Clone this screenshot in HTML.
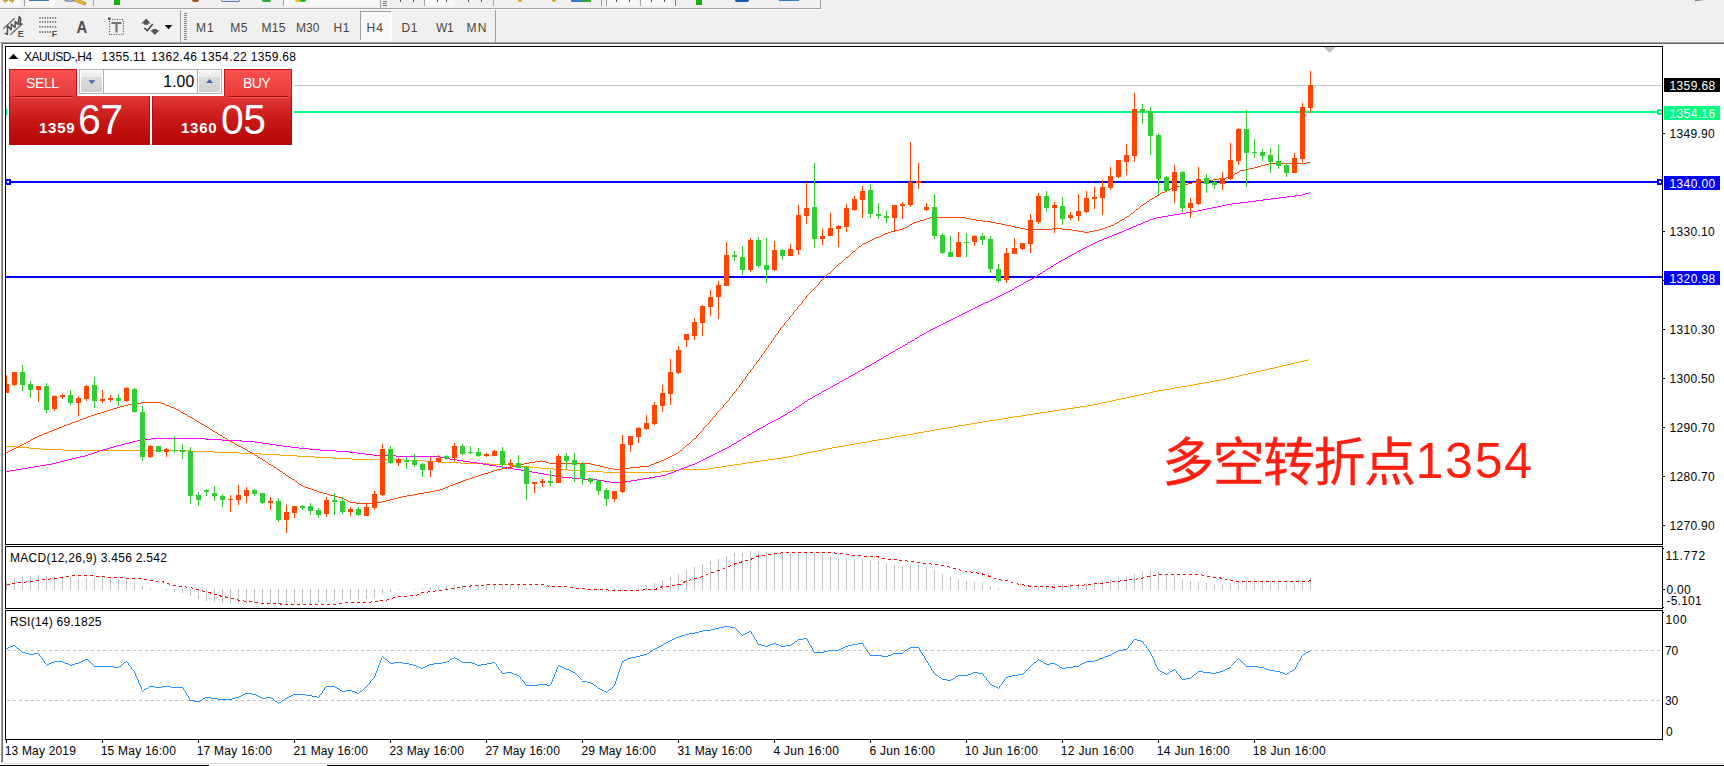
<!DOCTYPE html>
<html><head><meta charset="utf-8"><title>XAUUSD-,H4</title>
<style>
html,body{margin:0;padding:0;background:#fff;}
body{width:1724px;height:766px;position:relative;overflow:hidden;font-family:"Liberation Sans","Noto Sans CJK SC",sans-serif;font-size:12px;color:#000;}
.abs{position:absolute;white-space:nowrap;}
.t{position:absolute;white-space:nowrap;font-size:12px;line-height:14px;}
.tf{color:#505050;}
.ax{position:absolute;left:1668px;font-size:12px;line-height:14px;white-space:nowrap;}
.dt{position:absolute;top:744px;font-size:12px;line-height:14px;white-space:nowrap;}
.lab{position:absolute;left:1664px;width:56px;height:14px;overflow:hidden;font-size:12px;line-height:16px;color:#fff;text-indent:5.5px;letter-spacing:0.38px;white-space:nowrap;}
</style></head><body>
<!-- top toolbars -->
<div class="abs" style="left:0;top:0;width:1724px;height:42px;background:#f0f0f0"></div>
<div class="abs" style="left:0;top:8px;width:821px;height:1px;background:#a0a0a0"></div>
<div class="abs" style="left:0;top:9px;width:821px;height:1px;background:#fafafa"></div>
<div class="abs" style="left:820px;top:0;width:1px;height:9px;background:#a0a0a0"></div>
<div class="abs" style="left:0;top:42px;width:1724px;height:1px;background:#a0a0a0"></div>
<div class="abs" style="left:1px;top:43px;width:1723px;height:1px;background:#696969"></div>
<div class="abs" style="left:1px;top:43px;width:1px;height:720px;background:#a0a0a0"></div>
<div class="abs" style="left:2px;top:43px;width:1px;height:719px;background:#696969"></div>
<!-- cut-off upper toolbar remnants -->
<div class="abs" style="left:0;top:0;width:21px;height:6px;background:#f9f9f9"></div>
<svg class="abs" style="left:0;top:0" width="100" height="8"><path d="M3.5 0H8L4.8 2.6ZM9 0H13.6L12.6 2.6Z" fill="#e6b020" stroke="#a87810" stroke-width=".6"/><path d="M64.5 0Q69 2.4 75 .2" stroke="#7f8ea6" stroke-width="1.6" fill="none"/><path d="M75.5 0L84.5 3.6" stroke="#b88418" stroke-width="3.2" stroke-linecap="round"/><path d="M75.5 0L84.3 3.4" stroke="#f0c040" stroke-width="1.6" stroke-linecap="round"/></svg>
<div class="abs" style="left:24px;top:0;width:1px;height:6px;background:#a0a0a0"></div>
<div class="abs" style="left:26px;top:0;width:29px;height:6px;background:#f9f9f9"></div>
<div class="abs" style="left:29px;top:0;width:20px;height:1px;background:#3a78c8"></div>
<div class="abs" style="left:93px;top:0;width:1px;height:6px;background:#a0a0a0"></div>
<div class="abs" style="left:114px;top:0;width:6px;height:5px;background:#10b010"></div>
<div class="abs" style="left:192px;top:0;width:7px;height:2px;background:#9a5a10;border-radius:0 0 4px 4px"></div>
<div class="abs" style="left:221px;top:0;width:19px;height:2px;background:#dfe6f5;border:1px solid #5a78b8;border-top:0;border-radius:0 0 3px 3px;box-sizing:border-box"></div>
<div class="abs" style="left:262px;top:0;width:9px;height:2px;background:#30a830;border-radius:0 0 4px 4px"></div>
<div class="abs" style="left:283px;top:0;width:1px;height:6px;background:#a0a0a0"></div>
<div class="abs" style="left:284px;top:0;width:94px;height:6px;background:#f9f9f9"></div>
<div class="abs" style="left:295px;top:0;width:6px;height:2px;background:#e0c020;border-radius:0 0 3px 3px"></div>
<div class="abs" style="left:300px;top:0;width:6px;height:2px;background:#20b020;border-radius:0 0 3px 3px"></div>
<div class="abs" style="left:380px;top:0;width:1px;height:8px;background:#a0a0a0"></div>
<div class="abs" style="left:383px;top:1px;width:4px;height:1px;background:#808080;box-shadow:0 2px 0 #808080,0 4px 0 #808080"></div>
<div class="abs" style="left:400px;top:0;width:1px;height:2px;background:#505050"></div>
<div class="abs" style="left:413px;top:0;width:1px;height:2px;background:#505050"></div>
<div class="abs" style="left:424px;top:0;width:1px;height:6px;background:#a0a0a0"></div>
<div class="abs" style="left:425px;top:0;width:30px;height:6px;background:#f9f9f9"></div>
<div class="abs" style="left:437px;top:0;width:1px;height:2px;background:#505050"></div>
<div class="abs" style="left:446px;top:0;width:1px;height:2px;background:#505050"></div>
<div class="abs" style="left:468px;top:0;width:1px;height:2px;background:#505050"></div>
<div class="abs" style="left:481px;top:0;width:1px;height:2px;background:#505050"></div>
<div class="abs" style="left:493px;top:0;width:1px;height:6px;background:#a0a0a0"></div>
<div class="abs" style="left:518px;top:0;width:4px;height:2px;background:#d8a020;border-radius:0 0 2px 2px"></div>
<div class="abs" style="left:552px;top:0;width:4px;height:2px;background:#d8a020;border-radius:0 0 2px 2px"></div>
<div class="abs" style="left:571px;top:0;width:10px;height:2px;background:#3a78d8"></div>
<div class="abs" style="left:581px;top:0;width:10px;height:2px;background:#30a830"></div>
<div class="abs" style="left:601px;top:0;width:1px;height:6px;background:#a0a0a0"></div>
<div class="abs" style="left:606px;top:0;width:1px;height:6px;background:#a0a0a0"></div>
<div class="abs" style="left:607px;top:0;width:31px;height:6px;background:#f9f9f9"></div>
<div class="abs" style="left:616px;top:0;width:1px;height:2px;background:#505050"></div>
<div class="abs" style="left:629px;top:0;width:1px;height:2px;background:#505050"></div>
<div class="abs" style="left:640px;top:0;width:1px;height:6px;background:#a0a0a0"></div>
<div class="abs" style="left:641px;top:0;width:30px;height:6px;background:#f9f9f9"></div>
<div class="abs" style="left:651px;top:0;width:1px;height:2px;background:#505050"></div>
<div class="abs" style="left:664px;top:0;width:1px;height:2px;background:#505050"></div>
<div class="abs" style="left:675px;top:0;width:1px;height:6px;background:#808080"></div>
<div class="abs" style="left:696px;top:0;width:6px;height:5px;background:#10b010"></div>
<div class="abs" style="left:735px;top:0;width:14px;height:2px;background:#1858b0;border-radius:0 0 7px 7px"></div>
<div class="abs" style="left:779px;top:0;width:20px;height:1px;background:#3a78c8"></div>
<div class="abs" style="left:1695px;top:0;width:8px;height:1px;background:linear-gradient(90deg,#707070,#c8c8c8)"></div>
<!-- second toolbar -->
<svg class="abs" style="left:0;top:9px" width="500" height="33" viewBox="0 9 500 33">
 <!-- icon1: equidistant channel E -->
 <g stroke="#505050" fill="none" stroke-linecap="round" stroke-linejoin="round">
  <path d="M3.9 28.2L14.4 18.4M10.6 34.6L22.2 24.1" stroke-width="1.3" stroke="#6a6a6a"/>
  <path d="M5.2 33.4L7.4 34.2L7.6 25.8L11 29.8L11.6 24.2L15 27.5L15.4 21.5L18 24.5L19.3 16.4L20.8 19L19.8 24.6L21.6 23.8" stroke-width="1.5"/>
 </g>
 <text x="17.8" y="37.2" font-family="Liberation Sans,sans-serif" font-weight="bold" font-size="9" fill="#505050">E</text>
 <!-- icon2: fibo F -->
 <g stroke="#6e6e6e" stroke-width="1.8" stroke-dasharray="1.3,1.3" fill="none">
  <path d="M39.3 17.9H57M39.3 21.8H57M39.3 26.8H57M39.3 32H51.6"/>
 </g>
 <text x="51.8" y="37.2" font-family="Liberation Sans,sans-serif" font-weight="bold" font-size="9" fill="#505050">F</text>
 <!-- icon3: A -->
 <text transform="translate(76.6 32.8) scale(.9 1)" font-family="Liberation Sans,sans-serif" font-weight="bold" font-size="16.5" fill="#4f4f4f">A</text>
 <!-- icon4: T label -->
 <rect x="109.6" y="19.5" width="13.8" height="15" fill="none" stroke="#444" stroke-width="1.1" stroke-dasharray="1,1.5"/>
 <rect x="108" y="17.4" width="2.6" height="2.4" fill="#555"/>
 <path d="M111.5 23H121.5M116.5 23V32.6" stroke="#757575" stroke-width="2.2" fill="none"/>
 <!-- icon5: arrows -->
 <g fill="#555">
  <path d="M141.4 23.5L146.2 18.6L150.7 23.5H148V24.8H144V23.5Z"/>
  <path d="M150.3 30.2H152.5V29H157V30.2H159.6L154.8 35.1Z"/>
 </g>
 <path d="M144.4 28L147.3 30.6L152.8 24" stroke="#444" stroke-width="1.5" fill="none"/>
 <path d="M164.7 25H172.3L168.5 29.2Z" fill="#000"/>
 <!-- separators and grip -->
 <g shape-rendering="crispEdges">
  <rect x="180" y="10" width="1" height="32" fill="#a0a0a0"/>
  <rect x="495" y="10" width="1" height="32" fill="#a0a0a0"/>
  <g fill="#8a8a8a">
   <rect x="184" y="13" width="3" height="1"/><rect x="184" y="15" width="3" height="1"/><rect x="184" y="17" width="3" height="1"/><rect x="184" y="19" width="3" height="1"/><rect x="184" y="21" width="3" height="1"/><rect x="184" y="23" width="3" height="1"/><rect x="184" y="25" width="3" height="1"/><rect x="184" y="27" width="3" height="1"/><rect x="184" y="29" width="3" height="1"/><rect x="184" y="31" width="3" height="1"/><rect x="184" y="33" width="3" height="1"/><rect x="184" y="35" width="3" height="1"/><rect x="184" y="37" width="3" height="1"/><rect x="184" y="39" width="3" height="1"/>
  </g>
  <!-- H4 pressed -->
  <rect x="360" y="11" width="31" height="29" fill="#f8f8f8"/>
  <rect x="360" y="11" width="31" height="1" fill="#a0a0a0"/><rect x="360" y="11" width="1" height="29" fill="#a0a0a0"/>
  <rect x="391" y="11" width="1" height="29" fill="#fff"/><rect x="360" y="40" width="32" height="1" fill="#fff"/>
 </g>
</svg>

<!--CHART-->
<svg width="1724" height="766" viewBox="0 0 1724 766" style="position:absolute;left:0;top:0">
<g shape-rendering="crispEdges">
<rect x="6" y="85" width="1656" height="1" fill="#c0c0c0"/>
<rect x="6" y="111" width="1656" height="2" fill="#00ff7f"/>
<rect x="6" y="181" width="1656" height="2" fill="#0000ff"/>
<rect x="6" y="276" width="1656" height="2" fill="#0000ff"/>
<rect x="5" y="179" width="6" height="6" fill="#0000ff"/><rect x="7" y="181" width="2" height="2" fill="#fff"/>
<rect x="1657" y="179" width="6" height="6" fill="#0000ff"/><rect x="1659" y="181" width="2" height="2" fill="#fff"/>
<rect x="5" y="109" width="2" height="6" fill="#00ff7f"/>
<rect x="1657" y="109" width="6" height="6" fill="#00ff7f"/><rect x="1659" y="111" width="2" height="2" fill="#fff"/>
<rect x="6" y="581" width="1" height="9" fill="#c0c0c0"/>
<rect x="14" y="578" width="1" height="12" fill="#c0c0c0"/>
<rect x="22" y="577" width="1" height="13" fill="#c0c0c0"/>
<rect x="30" y="576" width="1" height="14" fill="#c0c0c0"/>
<rect x="38" y="575" width="1" height="15" fill="#c0c0c0"/>
<rect x="46" y="576" width="1" height="14" fill="#c0c0c0"/>
<rect x="54" y="577" width="1" height="13" fill="#c0c0c0"/>
<rect x="62" y="577" width="1" height="13" fill="#c0c0c0"/>
<rect x="70" y="577" width="1" height="13" fill="#c0c0c0"/>
<rect x="78" y="578" width="1" height="12" fill="#c0c0c0"/>
<rect x="86" y="578" width="1" height="12" fill="#c0c0c0"/>
<rect x="94" y="578" width="1" height="12" fill="#c0c0c0"/>
<rect x="102" y="578" width="1" height="12" fill="#c0c0c0"/>
<rect x="110" y="579" width="1" height="11" fill="#c0c0c0"/>
<rect x="118" y="580" width="1" height="10" fill="#c0c0c0"/>
<rect x="126" y="581" width="1" height="9" fill="#c0c0c0"/>
<rect x="134" y="582" width="1" height="8" fill="#c0c0c0"/>
<rect x="142" y="585" width="1" height="5" fill="#c0c0c0"/>
<rect x="150" y="588" width="1" height="2" fill="#c0c0c0"/>
<rect x="166" y="589" width="1" height="2" fill="#c0c0c0"/>
<rect x="174" y="589" width="1" height="3" fill="#c0c0c0"/>
<rect x="182" y="589" width="1" height="4" fill="#c0c0c0"/>
<rect x="190" y="589" width="1" height="7" fill="#c0c0c0"/>
<rect x="198" y="589" width="1" height="10" fill="#c0c0c0"/>
<rect x="206" y="589" width="1" height="12" fill="#c0c0c0"/>
<rect x="214" y="589" width="1" height="13" fill="#c0c0c0"/>
<rect x="222" y="589" width="1" height="14" fill="#c0c0c0"/>
<rect x="230" y="589" width="1" height="15" fill="#c0c0c0"/>
<rect x="238" y="589" width="1" height="14" fill="#c0c0c0"/>
<rect x="246" y="589" width="1" height="14" fill="#c0c0c0"/>
<rect x="254" y="589" width="1" height="14" fill="#c0c0c0"/>
<rect x="262" y="589" width="1" height="15" fill="#c0c0c0"/>
<rect x="270" y="589" width="1" height="15" fill="#c0c0c0"/>
<rect x="278" y="589" width="1" height="15" fill="#c0c0c0"/>
<rect x="286" y="589" width="1" height="15" fill="#c0c0c0"/>
<rect x="294" y="589" width="1" height="15" fill="#c0c0c0"/>
<rect x="302" y="589" width="1" height="15" fill="#c0c0c0"/>
<rect x="310" y="589" width="1" height="15" fill="#c0c0c0"/>
<rect x="318" y="589" width="1" height="14" fill="#c0c0c0"/>
<rect x="326" y="589" width="1" height="13" fill="#c0c0c0"/>
<rect x="334" y="589" width="1" height="12" fill="#c0c0c0"/>
<rect x="342" y="589" width="1" height="11" fill="#c0c0c0"/>
<rect x="350" y="589" width="1" height="11" fill="#c0c0c0"/>
<rect x="358" y="589" width="1" height="11" fill="#c0c0c0"/>
<rect x="366" y="589" width="1" height="10" fill="#c0c0c0"/>
<rect x="374" y="589" width="1" height="9" fill="#c0c0c0"/>
<rect x="382" y="589" width="1" height="5" fill="#c0c0c0"/>
<rect x="390" y="589" width="1" height="3" fill="#c0c0c0"/>
<rect x="398" y="589" width="1" height="1" fill="#c0c0c0"/>
<rect x="414" y="589" width="1" height="1" fill="#c0c0c0"/>
<rect x="422" y="588" width="1" height="2" fill="#c0c0c0"/>
<rect x="430" y="587" width="1" height="3" fill="#c0c0c0"/>
<rect x="438" y="587" width="1" height="3" fill="#c0c0c0"/>
<rect x="446" y="586" width="1" height="4" fill="#c0c0c0"/>
<rect x="454" y="585" width="1" height="5" fill="#c0c0c0"/>
<rect x="462" y="585" width="1" height="5" fill="#c0c0c0"/>
<rect x="470" y="584" width="1" height="6" fill="#c0c0c0"/>
<rect x="478" y="584" width="1" height="6" fill="#c0c0c0"/>
<rect x="486" y="584" width="1" height="6" fill="#c0c0c0"/>
<rect x="494" y="584" width="1" height="6" fill="#c0c0c0"/>
<rect x="502" y="584" width="1" height="6" fill="#c0c0c0"/>
<rect x="510" y="584" width="1" height="6" fill="#c0c0c0"/>
<rect x="518" y="585" width="1" height="5" fill="#c0c0c0"/>
<rect x="526" y="588" width="1" height="2" fill="#c0c0c0"/>
<rect x="534" y="589" width="1" height="1" fill="#c0c0c0"/>
<rect x="598" y="589" width="1" height="2" fill="#c0c0c0"/>
<rect x="606" y="589" width="1" height="3" fill="#c0c0c0"/>
<rect x="614" y="589" width="1" height="3" fill="#c0c0c0"/>
<rect x="622" y="589" width="1" height="2" fill="#c0c0c0"/>
<rect x="638" y="588" width="1" height="2" fill="#c0c0c0"/>
<rect x="646" y="585" width="1" height="5" fill="#c0c0c0"/>
<rect x="654" y="583" width="1" height="7" fill="#c0c0c0"/>
<rect x="662" y="580" width="1" height="10" fill="#c0c0c0"/>
<rect x="670" y="577" width="1" height="13" fill="#c0c0c0"/>
<rect x="678" y="574" width="1" height="16" fill="#c0c0c0"/>
<rect x="686" y="570" width="1" height="20" fill="#c0c0c0"/>
<rect x="694" y="567" width="1" height="23" fill="#c0c0c0"/>
<rect x="702" y="564" width="1" height="26" fill="#c0c0c0"/>
<rect x="710" y="561" width="1" height="29" fill="#c0c0c0"/>
<rect x="718" y="559" width="1" height="31" fill="#c0c0c0"/>
<rect x="726" y="556" width="1" height="34" fill="#c0c0c0"/>
<rect x="734" y="553" width="1" height="37" fill="#c0c0c0"/>
<rect x="742" y="553" width="1" height="37" fill="#c0c0c0"/>
<rect x="750" y="551" width="1" height="39" fill="#c0c0c0"/>
<rect x="758" y="551" width="1" height="39" fill="#c0c0c0"/>
<rect x="766" y="552" width="1" height="38" fill="#c0c0c0"/>
<rect x="774" y="553" width="1" height="37" fill="#c0c0c0"/>
<rect x="782" y="554" width="1" height="36" fill="#c0c0c0"/>
<rect x="790" y="554" width="1" height="36" fill="#c0c0c0"/>
<rect x="798" y="554" width="1" height="36" fill="#c0c0c0"/>
<rect x="806" y="553" width="1" height="37" fill="#c0c0c0"/>
<rect x="814" y="553" width="1" height="37" fill="#c0c0c0"/>
<rect x="822" y="555" width="1" height="35" fill="#c0c0c0"/>
<rect x="830" y="556" width="1" height="34" fill="#c0c0c0"/>
<rect x="838" y="558" width="1" height="32" fill="#c0c0c0"/>
<rect x="846" y="558" width="1" height="32" fill="#c0c0c0"/>
<rect x="854" y="559" width="1" height="31" fill="#c0c0c0"/>
<rect x="862" y="559" width="1" height="31" fill="#c0c0c0"/>
<rect x="870" y="560" width="1" height="30" fill="#c0c0c0"/>
<rect x="878" y="561" width="1" height="29" fill="#c0c0c0"/>
<rect x="886" y="563" width="1" height="27" fill="#c0c0c0"/>
<rect x="894" y="565" width="1" height="25" fill="#c0c0c0"/>
<rect x="902" y="566" width="1" height="24" fill="#c0c0c0"/>
<rect x="910" y="565" width="1" height="25" fill="#c0c0c0"/>
<rect x="918" y="565" width="1" height="25" fill="#c0c0c0"/>
<rect x="926" y="567" width="1" height="23" fill="#c0c0c0"/>
<rect x="934" y="570" width="1" height="20" fill="#c0c0c0"/>
<rect x="942" y="574" width="1" height="16" fill="#c0c0c0"/>
<rect x="950" y="577" width="1" height="13" fill="#c0c0c0"/>
<rect x="958" y="579" width="1" height="11" fill="#c0c0c0"/>
<rect x="966" y="581" width="1" height="9" fill="#c0c0c0"/>
<rect x="974" y="582" width="1" height="8" fill="#c0c0c0"/>
<rect x="982" y="583" width="1" height="7" fill="#c0c0c0"/>
<rect x="990" y="586" width="1" height="4" fill="#c0c0c0"/>
<rect x="998" y="588" width="1" height="2" fill="#c0c0c0"/>
<rect x="1030" y="589" width="1" height="1" fill="#c0c0c0"/>
<rect x="1038" y="587" width="1" height="3" fill="#c0c0c0"/>
<rect x="1046" y="586" width="1" height="4" fill="#c0c0c0"/>
<rect x="1054" y="584" width="1" height="6" fill="#c0c0c0"/>
<rect x="1062" y="584" width="1" height="6" fill="#c0c0c0"/>
<rect x="1070" y="584" width="1" height="6" fill="#c0c0c0"/>
<rect x="1078" y="584" width="1" height="6" fill="#c0c0c0"/>
<rect x="1086" y="583" width="1" height="7" fill="#c0c0c0"/>
<rect x="1094" y="582" width="1" height="8" fill="#c0c0c0"/>
<rect x="1102" y="581" width="1" height="9" fill="#c0c0c0"/>
<rect x="1110" y="580" width="1" height="10" fill="#c0c0c0"/>
<rect x="1118" y="578" width="1" height="12" fill="#c0c0c0"/>
<rect x="1126" y="577" width="1" height="13" fill="#c0c0c0"/>
<rect x="1134" y="574" width="1" height="16" fill="#c0c0c0"/>
<rect x="1142" y="571" width="1" height="19" fill="#c0c0c0"/>
<rect x="1150" y="570" width="1" height="20" fill="#c0c0c0"/>
<rect x="1158" y="572" width="1" height="18" fill="#c0c0c0"/>
<rect x="1166" y="574" width="1" height="16" fill="#c0c0c0"/>
<rect x="1174" y="576" width="1" height="14" fill="#c0c0c0"/>
<rect x="1182" y="579" width="1" height="11" fill="#c0c0c0"/>
<rect x="1190" y="581" width="1" height="9" fill="#c0c0c0"/>
<rect x="1198" y="582" width="1" height="8" fill="#c0c0c0"/>
<rect x="1206" y="583" width="1" height="7" fill="#c0c0c0"/>
<rect x="1214" y="584" width="1" height="6" fill="#c0c0c0"/>
<rect x="1222" y="584" width="1" height="6" fill="#c0c0c0"/>
<rect x="1230" y="583" width="1" height="7" fill="#c0c0c0"/>
<rect x="1238" y="582" width="1" height="8" fill="#c0c0c0"/>
<rect x="1246" y="581" width="1" height="9" fill="#c0c0c0"/>
<rect x="1254" y="581" width="1" height="9" fill="#c0c0c0"/>
<rect x="1262" y="581" width="1" height="9" fill="#c0c0c0"/>
<rect x="1270" y="581" width="1" height="9" fill="#c0c0c0"/>
<rect x="1278" y="582" width="1" height="8" fill="#c0c0c0"/>
<rect x="1286" y="583" width="1" height="7" fill="#c0c0c0"/>
<rect x="1294" y="583" width="1" height="7" fill="#c0c0c0"/>
<rect x="1302" y="582" width="1" height="8" fill="#c0c0c0"/>
<rect x="1310" y="578" width="1" height="12" fill="#c0c0c0"/>
</g>
<g shape-rendering="crispEdges" stroke="#c0c0c0" stroke-width="1" stroke-dasharray="3,3">
<line x1="7" y1="650.5" x2="1662" y2="650.5"/><line x1="7" y1="700.5" x2="1662" y2="700.5"/></g>
<g shape-rendering="crispEdges">
<path fill="#ffa500" d="M6 446h11v1h-11zM17 447h12v1h-12zM29 448h12v1h-12zM41 449h22v1h-22zM63 450h128v1h-128zM191 451h23v1h-23zM214 452h25v1h-25zM239 453h23v1h-23zM262 454h18v1h-18zM280 455h17v1h-17zM297 456h18v1h-18zM315 457h18v1h-18zM333 458h19v1h-19zM352 459h52v1h-52zM404 460h21v1h-21zM425 461h13v1h-13zM438 462h23v1h-23zM461 463h28v1h-28zM489 464h20v1h-20zM509 465h11v1h-11zM520 466h10v1h-10zM530 467h10v1h-10zM540 468h13v1h-13zM553 469h15v1h-15zM568 470h18v1h-18zM586 471h17v1h-17zM603 472h58v1h-58zM661 471h9v1h-9zM670 470h9v1h-9zM679 469h29v1h-29zM708 468h6v1h-6zM714 467h7v1h-7zM721 466h6v1h-6zM727 465h7v1h-7zM734 464h7v1h-7zM741 463h6v1h-6zM747 462h7v1h-7zM754 461h7v1h-7zM761 460h7v1h-7zM768 459h7v1h-7zM775 458h7v1h-7zM782 457h6v1h-6zM788 456h5v1h-5zM793 455h5v1h-5zM798 454h5v1h-5zM803 453h4v1h-4zM807 452h5v1h-5zM812 451h5v1h-5zM817 450h5v1h-5zM822 449h5v1h-5zM827 448h5v1h-5zM832 447h6v1h-6zM838 446h6v1h-6zM844 445h5v1h-5zM849 444h6v1h-6zM855 443h6v1h-6zM861 442h6v1h-6zM867 441h5v1h-5zM872 440h6v1h-6zM878 439h6v1h-6zM884 438h6v1h-6zM890 437h5v1h-5zM895 436h6v1h-6zM901 435h6v1h-6zM907 434h6v1h-6zM913 433h5v1h-5zM918 432h6v1h-6zM924 431h6v1h-6zM930 430h5v1h-5zM935 429h6v1h-6zM941 428h6v1h-6zM947 427h6v1h-6zM953 426h5v1h-5zM958 425h7v1h-7zM965 424h6v1h-6zM971 423h6v1h-6zM977 422h6v1h-6zM983 421h6v1h-6zM989 420h7v1h-7zM996 419h6v1h-6zM1002 418h6v1h-6zM1008 417h6v1h-6zM1014 416h7v1h-7zM1021 415h6v1h-6zM1027 414h7v1h-7zM1034 413h6v1h-6zM1040 412h7v1h-7zM1047 411h7v1h-7zM1054 410h6v1h-6zM1060 409h7v1h-7zM1067 408h7v1h-7zM1074 407h6v1h-6zM1080 406h7v1h-7zM1087 405h6v1h-6zM1093 404h5v1h-5zM1098 403h4v1h-4zM1102 402h5v1h-5zM1107 401h5v1h-5zM1112 400h4v1h-4zM1116 399h5v1h-5zM1121 398h5v1h-5zM1126 397h4v1h-4zM1130 396h5v1h-5zM1135 395h5v1h-5zM1140 394h4v1h-4zM1144 393h5v1h-5zM1149 392h4v1h-4zM1153 391h5v1h-5zM1158 390h6v1h-6zM1164 389h6v1h-6zM1170 388h5v1h-5zM1175 387h6v1h-6zM1181 386h6v1h-6zM1187 385h6v1h-6zM1193 384h5v1h-5zM1198 383h6v1h-6zM1204 382h6v1h-6zM1210 381h5v1h-5zM1215 380h6v1h-6zM1221 379h5v1h-5zM1226 378h4v1h-4zM1230 377h5v1h-5zM1235 376h4v1h-4zM1239 375h4v1h-4zM1243 374h5v1h-5zM1248 373h4v1h-4zM1252 372h4v1h-4zM1256 371h5v1h-5zM1261 370h4v1h-4zM1265 369h4v1h-4zM1269 368h5v1h-5zM1274 367h4v1h-4zM1278 366h4v1h-4zM1282 365h5v1h-5zM1287 364h4v1h-4zM1291 363h4v1h-4zM1295 362h5v1h-5zM1300 361h4v1h-4zM1304 360h4v1h-4zM1308 359h1v1h-1z"/>
<path fill="#ff00ff" d="M5 471h5v1h-5zM10 470h6v1h-6zM16 469h6v1h-6zM22 468h6v1h-6zM28 467h6v1h-6zM34 466h6v1h-6zM40 465h6v1h-6zM46 464h6v1h-6zM52 463h4v1h-4zM56 462h4v1h-4zM60 461h4v1h-4zM64 460h4v1h-4zM68 459h4v1h-4zM72 458h4v1h-4zM76 457h4v1h-4zM80 456h5v1h-5zM85 455h3v1h-3zM88 454h3v1h-3zM91 453h3v1h-3zM94 452h3v1h-3zM97 451h3v1h-3zM100 450h3v1h-3zM103 449h4v1h-4zM107 448h3v1h-3zM110 447h4v1h-4zM114 446h3v1h-3zM117 445h4v1h-4zM121 444h4v1h-4zM125 443h4v1h-4zM129 442h4v1h-4zM133 441h4v1h-4zM137 440h5v1h-5zM142 439h9v1h-9zM151 438h54v1h-54zM205 439h17v1h-17zM222 440h20v1h-20zM242 441h13v1h-13zM255 442h7v1h-7zM262 443h7v1h-7zM269 444h7v1h-7zM276 445h7v1h-7zM283 446h8v1h-8zM291 447h8v1h-8zM299 448h10v1h-10zM309 449h11v1h-11zM320 450h16v1h-16zM336 451h13v1h-13zM349 452h8v1h-8zM357 453h8v1h-8zM365 454h8v1h-8zM373 455h23v1h-23zM396 456h44v1h-44zM440 457h5v1h-5zM445 458h5v1h-5zM450 459h7v1h-7zM457 460h6v1h-6zM463 461h7v1h-7zM470 462h7v1h-7zM477 463h6v1h-6zM483 464h6v1h-6zM489 465h7v1h-7zM496 466h6v1h-6zM502 467h6v1h-6zM508 468h6v1h-6zM514 469h7v1h-7zM521 470h6v1h-6zM527 471h5v1h-5zM532 472h6v1h-6zM538 473h6v1h-6zM544 474h5v1h-5zM549 475h6v1h-6zM555 476h7v1h-7zM562 477h10v1h-10zM572 478h10v1h-10zM582 479h15v1h-15zM597 480h7v1h-7zM604 481h6v1h-6zM610 482h15v1h-15zM625 481h6v1h-6zM631 480h6v1h-6zM637 479h6v1h-6zM643 478h6v1h-6zM649 477h6v1h-6zM655 476h6v1h-6zM661 475h5v1h-5zM666 474h2v1h-2zM668 473h3v1h-3zM671 472h3v1h-3zM674 471h2v1h-2zM676 470h3v1h-3zM679 469h2v1h-2zM681 468h3v1h-3zM684 467h3v1h-3zM687 466h2v1h-2zM689 465h3v1h-3zM692 464h3v1h-3zM695 463h2v1h-2zM697 462h2v1h-2zM699 461h2v1h-2zM701 460h2v1h-2zM703 459h2v1h-2zM705 458h2v1h-2zM707 457h2v1h-2zM709 456h2v1h-2zM711 455h2v1h-2zM713 454h2v1h-2zM715 453h2v1h-2zM717 452h2v1h-2zM719 451h2v1h-2zM721 450h2v1h-2zM723 449h2v1h-2zM725 448h2v1h-2zM727 447h2v1h-2zM729 446h2v1h-2zM731 445h1v1h-1zM732 444h2v1h-2zM734 443h2v1h-2zM736 442h1v1h-1zM737 441h2v1h-2zM739 440h2v1h-2zM741 439h1v1h-1zM742 438h2v1h-2zM744 437h2v1h-2zM746 436h1v1h-1zM747 435h2v1h-2zM749 434h2v1h-2zM751 433h1v1h-1zM752 432h2v1h-2zM754 431h2v1h-2zM756 430h1v1h-1zM757 429h2v1h-2zM759 428h2v1h-2zM761 427h2v1h-2zM763 426h2v1h-2zM765 425h1v1h-1zM766 424h2v1h-2zM768 423h2v1h-2zM770 422h2v1h-2zM772 421h2v1h-2zM774 420h2v1h-2zM776 419h2v1h-2zM778 418h2v1h-2zM780 417h1v1h-1zM781 416h2v1h-2zM783 415h2v1h-2zM785 414h2v1h-2zM787 413h1v1h-1zM788 412h2v1h-2zM790 411h2v1h-2zM792 410h1v1h-1zM793 409h2v1h-2zM795 408h1v1h-1zM796 407h2v1h-2zM798 406h1v1h-1zM799 405h2v1h-2zM801 404h1v1h-1zM802 403h2v1h-2zM804 402h1v1h-1zM805 401h2v1h-2zM807 400h1v1h-1zM808 399h2v1h-2zM810 398h2v1h-2zM812 397h1v1h-1zM813 396h2v1h-2zM815 395h2v1h-2zM817 394h2v1h-2zM819 393h2v1h-2zM821 392h1v1h-1zM822 391h2v1h-2zM824 390h2v1h-2zM826 389h2v1h-2zM828 388h2v1h-2zM830 387h1v1h-1zM831 386h2v1h-2zM833 385h2v1h-2zM835 384h2v1h-2zM837 383h2v1h-2zM839 382h1v1h-1zM840 381h2v1h-2zM842 380h2v1h-2zM844 379h2v1h-2zM846 378h2v1h-2zM848 377h1v1h-1zM849 376h2v1h-2zM851 375h2v1h-2zM853 374h2v1h-2zM855 373h2v1h-2zM857 372h1v1h-1zM858 371h2v1h-2zM860 370h2v1h-2zM862 369h2v1h-2zM864 368h1v1h-1zM865 367h2v1h-2zM867 366h2v1h-2zM869 365h2v1h-2zM871 364h1v1h-1zM872 363h2v1h-2zM874 362h2v1h-2zM876 361h1v1h-1zM877 360h2v1h-2zM879 359h2v1h-2zM881 358h2v1h-2zM883 357h1v1h-1zM884 356h2v1h-2zM886 355h2v1h-2zM888 354h1v1h-1zM889 353h2v1h-2zM891 352h2v1h-2zM893 351h2v1h-2zM895 350h1v1h-1zM896 349h2v1h-2zM898 348h2v1h-2zM900 347h2v1h-2zM902 346h1v1h-1zM903 345h2v1h-2zM905 344h2v1h-2zM907 343h1v1h-1zM908 342h2v1h-2zM910 341h2v1h-2zM912 340h2v1h-2zM914 339h1v1h-1zM915 338h2v1h-2zM917 337h2v1h-2zM919 336h1v1h-1zM920 335h2v1h-2zM922 334h2v1h-2zM924 333h2v1h-2zM926 332h1v1h-1zM927 331h2v1h-2zM929 330h2v1h-2zM931 329h2v1h-2zM933 328h2v1h-2zM935 327h2v1h-2zM937 326h2v1h-2zM939 325h2v1h-2zM941 324h2v1h-2zM943 323h2v1h-2zM945 322h2v1h-2zM947 321h2v1h-2zM949 320h2v1h-2zM951 319h2v1h-2zM953 318h2v1h-2zM955 317h2v1h-2zM957 316h2v1h-2zM959 315h2v1h-2zM961 314h2v1h-2zM963 313h2v1h-2zM965 312h2v1h-2zM967 311h2v1h-2zM969 310h2v1h-2zM971 309h2v1h-2zM973 308h2v1h-2zM975 307h2v1h-2zM977 306h2v1h-2zM979 305h2v1h-2zM981 304h2v1h-2zM983 303h2v1h-2zM985 302h3v1h-3zM988 301h2v1h-2zM990 300h2v1h-2zM992 299h2v1h-2zM994 298h2v1h-2zM996 297h2v1h-2zM998 296h2v1h-2zM1000 295h2v1h-2zM1002 294h2v1h-2zM1004 293h2v1h-2zM1006 292h2v1h-2zM1008 291h2v1h-2zM1010 290h2v1h-2zM1012 289h2v1h-2zM1014 288h1v1h-1zM1015 287h2v1h-2zM1017 286h2v1h-2zM1019 285h2v1h-2zM1021 284h2v1h-2zM1023 283h1v1h-1zM1024 282h2v1h-2zM1026 281h2v1h-2zM1028 280h2v1h-2zM1030 279h2v1h-2zM1032 278h2v1h-2zM1034 277h1v1h-1zM1035 276h2v1h-2zM1037 275h1v1h-1zM1038 274h2v1h-2zM1040 273h2v1h-2zM1042 272h1v1h-1zM1043 271h2v1h-2zM1045 270h1v1h-1zM1046 269h2v1h-2zM1048 268h2v1h-2zM1050 267h1v1h-1zM1051 266h2v1h-2zM1053 265h1v1h-1zM1054 264h2v1h-2zM1056 263h2v1h-2zM1058 262h1v1h-1zM1059 261h2v1h-2zM1061 260h2v1h-2zM1063 259h2v1h-2zM1065 258h2v1h-2zM1067 257h1v1h-1zM1068 256h2v1h-2zM1070 255h2v1h-2zM1072 254h2v1h-2zM1074 253h2v1h-2zM1076 252h1v1h-1zM1077 251h2v1h-2zM1079 250h2v1h-2zM1081 249h2v1h-2zM1083 248h2v1h-2zM1085 247h2v1h-2zM1087 246h2v1h-2zM1089 245h2v1h-2zM1091 244h2v1h-2zM1093 243h2v1h-2zM1095 242h2v1h-2zM1097 241h2v1h-2zM1099 240h3v1h-3zM1102 239h2v1h-2zM1104 238h3v1h-3zM1107 237h2v1h-2zM1109 236h3v1h-3zM1112 235h2v1h-2zM1114 234h3v1h-3zM1117 233h2v1h-2zM1119 232h3v1h-3zM1122 231h2v1h-2zM1124 230h2v1h-2zM1126 229h3v1h-3zM1129 228h2v1h-2zM1131 227h2v1h-2zM1133 226h3v1h-3zM1136 225h2v1h-2zM1138 224h3v1h-3zM1141 223h2v1h-2zM1143 222h2v1h-2zM1145 221h3v1h-3zM1148 220h2v1h-2zM1150 219h3v1h-3zM1153 218h3v1h-3zM1156 217h6v1h-6zM1162 216h6v1h-6zM1168 215h6v1h-6zM1174 214h6v1h-6zM1180 213h6v1h-6zM1186 212h6v1h-6zM1192 211h5v1h-5zM1197 210h5v1h-5zM1202 209h5v1h-5zM1207 208h5v1h-5zM1212 207h5v1h-5zM1217 206h5v1h-5zM1222 205h4v1h-4zM1226 204h6v1h-6zM1232 203h8v1h-8zM1240 202h8v1h-8zM1248 201h8v1h-8zM1256 200h7v1h-7zM1263 199h8v1h-8zM1271 198h8v1h-8zM1279 197h8v1h-8zM1287 196h8v1h-8zM1295 195h7v1h-7zM1302 194h3v1h-3zM1305 193h4v1h-4zM1309 192h1v1h-1z"/>
<path fill="#ff4500" d="M6 452h2v1h-2zM8 451h2v1h-2zM10 450h2v1h-2zM12 449h2v1h-2zM14 448h2v1h-2zM16 447h2v1h-2zM18 446h2v1h-2zM20 445h2v1h-2zM22 444h2v1h-2zM24 443h2v1h-2zM26 442h2v1h-2zM28 441h2v1h-2zM30 440h1v1h-1zM31 439h2v1h-2zM33 438h2v1h-2zM35 437h2v1h-2zM37 436h2v1h-2zM39 435h3v1h-3zM42 434h2v1h-2zM44 433h3v1h-3zM47 432h2v1h-2zM49 431h3v1h-3zM52 430h2v1h-2zM54 429h3v1h-3zM57 428h2v1h-2zM59 427h3v1h-3zM62 426h2v1h-2zM64 425h3v1h-3zM67 424h3v1h-3zM70 423h2v1h-2zM72 422h3v1h-3zM75 421h3v1h-3zM78 420h2v1h-2zM80 419h3v1h-3zM83 418h3v1h-3zM86 417h2v1h-2zM88 416h3v1h-3zM91 415h3v1h-3zM94 414h3v1h-3zM97 413h4v1h-4zM101 412h3v1h-3zM104 411h3v1h-3zM107 410h3v1h-3zM110 409h3v1h-3zM113 408h4v1h-4zM117 407h3v1h-3zM120 406h4v1h-4zM124 405h4v1h-4zM128 404h4v1h-4zM132 403h9v1h-9zM141 402h20v1h-20zM161 403h3v1h-3zM164 404h2v1h-2zM166 405h3v1h-3zM169 406h2v1h-2zM171 407h3v1h-3zM174 408h2v1h-2zM176 409h2v1h-2zM178 410h2v1h-2zM180 411h1v1h-1zM181 412h2v1h-2zM183 413h2v1h-2zM185 414h2v1h-2zM187 415h1v1h-1zM188 416h2v1h-2zM190 417h2v1h-2zM192 418h2v1h-2zM194 419h1v1h-1zM195 420h2v1h-2zM197 421h2v1h-2zM199 422h1v1h-1zM200 423h2v1h-2zM202 424h2v1h-2zM204 425h1v1h-1zM205 426h2v1h-2zM207 427h2v1h-2zM209 428h1v1h-1zM210 429h2v1h-2zM212 430h1v1h-1zM213 431h2v1h-2zM215 432h2v1h-2zM217 433h1v1h-1zM218 434h2v1h-2zM220 435h2v1h-2zM222 436h1v1h-1zM223 437h2v1h-2zM225 438h2v1h-2zM227 439h1v1h-1zM228 440h2v1h-2zM230 441h2v1h-2zM232 442h2v1h-2zM234 443h1v1h-1zM235 444h2v1h-2zM237 445h2v1h-2zM239 446h2v1h-2zM241 447h2v1h-2zM243 448h2v1h-2zM245 449h2v1h-2zM247 450h1v1h-1zM248 451h2v1h-2zM250 452h2v1h-2zM252 453h2v1h-2zM254 454h1v1h-1zM255 455h2v1h-2zM257 456h1v1h-1zM258 457h2v1h-2zM260 458h2v1h-2zM262 459h1v1h-1zM263 460h2v1h-2zM265 461h1v1h-1zM266 462h2v1h-2zM268 463h1v1h-1zM269 464h2v1h-2zM271 465h2v1h-2zM273 466h1v1h-1zM274 467h2v1h-2zM276 468h1v1h-1zM277 469h2v1h-2zM279 470h1v1h-1zM280 471h2v1h-2zM282 472h1v1h-1zM283 473h2v1h-2zM285 474h1v1h-1zM286 475h2v1h-2zM288 476h1v1h-1zM289 477h2v1h-2zM291 478h1v1h-1zM292 479h2v1h-2zM294 480h1v1h-1zM295 481h2v1h-2zM297 482h1v1h-1zM298 483h1v1h-1zM299 484h2v1h-2zM301 485h2v1h-2zM303 486h2v1h-2zM305 487h3v1h-3zM308 488h3v1h-3zM311 489h3v1h-3zM314 490h3v1h-3zM317 491h2v1h-2zM319 492h4v1h-4zM323 493h4v1h-4zM327 494h3v1h-3zM330 495h4v1h-4zM334 496h4v1h-4zM338 497h4v1h-4zM342 498h2v1h-2zM344 499h2v1h-2zM346 500h2v1h-2zM348 501h2v1h-2zM350 502h6v1h-6zM356 503h20v1h-20zM376 502h6v1h-6zM382 501h4v1h-4zM386 500h4v1h-4zM390 499h4v1h-4zM394 498h4v1h-4zM398 497h4v1h-4zM402 496h5v1h-5zM407 495h6v1h-6zM413 494h5v1h-5zM418 493h6v1h-6zM424 492h6v1h-6zM430 491h5v1h-5zM435 490h5v1h-5zM440 489h3v1h-3zM443 488h2v1h-2zM445 487h3v1h-3zM448 486h2v1h-2zM450 485h3v1h-3zM453 484h2v1h-2zM455 483h3v1h-3zM458 482h3v1h-3zM461 481h2v1h-2zM463 480h3v1h-3zM466 479h3v1h-3zM469 478h3v1h-3zM472 477h3v1h-3zM475 476h3v1h-3zM478 475h3v1h-3zM481 474h3v1h-3zM484 473h4v1h-4zM488 472h3v1h-3zM491 471h3v1h-3zM494 470h3v1h-3zM497 469h5v1h-5zM502 468h5v1h-5zM507 467h5v1h-5zM512 466h4v1h-4zM516 465h4v1h-4zM520 464h4v1h-4zM524 463h5v1h-5zM529 462h6v1h-6zM535 461h6v1h-6zM541 460h1v1h-1zM542 461h4v1h-4zM546 462h3v1h-3zM549 463h42v1h-42zM591 464h4v1h-4zM595 465h5v1h-5zM600 466h4v1h-4zM604 467h4v1h-4zM608 468h5v1h-5zM613 469h12v1h-12zM625 468h5v1h-5zM630 467h10v1h-10zM640 466h9v1h-9zM649 465h2v1h-2zM651 464h3v1h-3zM654 463h2v1h-2zM656 462h3v1h-3zM659 461h2v1h-2zM661 460h3v1h-3zM664 459h2v1h-2zM666 458h2v1h-2zM668 457h2v1h-2zM670 456h2v1h-2zM672 455h2v1h-2zM674 454h2v1h-2zM676 453h2v1h-2zM678 452h1v1h-1zM679 451h1v1h-1zM680 450h2v1h-2zM682 449h1v1h-1zM683 448h1v1h-1zM684 447h1v1h-1zM685 446h1v1h-1zM686 445h1v1h-1zM687 444h2v1h-2zM689 443h1v1h-1zM690 442h1v1h-1zM691 441h1v1h-1zM692 440h1v1h-1zM693 439h1v1h-1zM694 438h2v1h-2zM696 436h1v2h-1zM697 435h1v1h-1zM698 434h1v1h-1zM699 433h1v1h-1zM700 432h1v1h-1zM701 431h1v1h-1zM702 430h1v1h-1zM703 428h1v2h-1zM704 427h1v1h-1zM705 426h1v1h-1zM706 425h1v1h-1zM707 424h1v1h-1zM708 423h1v1h-1zM709 422h1v1h-1zM710 420h1v2h-1zM711 419h1v1h-1zM712 418h1v1h-1zM713 417h1v1h-1zM714 416h1v1h-1zM715 415h1v1h-1zM716 413h1v2h-1zM717 412h1v1h-1zM718 411h1v1h-1zM719 410h1v1h-1zM720 409h1v1h-1zM721 408h1v1h-1zM722 407h1v1h-1zM723 405h1v2h-1zM724 404h1v1h-1zM725 403h1v1h-1zM726 402h1v1h-1zM727 401h1v1h-1zM728 400h1v1h-1zM729 398h1v2h-1zM730 397h1v1h-1zM731 396h1v1h-1zM732 394h1v2h-1zM733 393h1v1h-1zM734 392h1v1h-1zM735 391h1v1h-1zM736 389h1v2h-1zM737 388h1v1h-1zM738 387h1v1h-1zM739 385h1v2h-1zM740 384h1v1h-1zM741 383h1v1h-1zM742 381h1v2h-1zM743 380h1v1h-1zM744 379h1v1h-1zM745 377h1v2h-1zM746 376h1v1h-1zM747 374h1v2h-1zM748 373h1v1h-1zM749 372h1v1h-1zM750 370h1v2h-1zM751 369h1v1h-1zM752 368h1v1h-1zM753 366h1v2h-1zM754 365h1v1h-1zM755 364h1v1h-1zM756 362h1v2h-1zM757 361h1v1h-1zM758 360h1v1h-1zM759 358h1v2h-1zM760 357h1v1h-1zM761 355h1v2h-1zM762 354h1v1h-1zM763 353h1v1h-1zM764 351h1v2h-1zM765 350h1v1h-1zM766 348h1v2h-1zM767 347h1v1h-1zM768 345h1v2h-1zM769 344h1v1h-1zM770 343h1v1h-1zM771 341h1v2h-1zM772 340h1v1h-1zM773 338h1v2h-1zM774 337h1v1h-1zM775 335h1v2h-1zM776 334h1v1h-1zM777 333h1v1h-1zM778 331h1v2h-1zM779 330h1v1h-1zM780 328h1v2h-1zM781 327h1v1h-1zM782 326h1v1h-1zM783 325h1v1h-1zM784 323h1v2h-1zM785 322h1v1h-1zM786 321h1v1h-1zM787 320h1v1h-1zM788 319h1v1h-1zM789 317h1v2h-1zM790 316h1v1h-1zM791 315h1v1h-1zM792 314h1v1h-1zM793 312h1v2h-1zM794 311h1v1h-1zM795 310h1v1h-1zM796 309h1v1h-1zM797 307h1v2h-1zM798 306h1v1h-1zM799 305h1v1h-1zM800 304h1v1h-1zM801 303h1v1h-1zM802 301h1v2h-1zM803 300h1v1h-1zM804 299h1v1h-1zM805 298h1v1h-1zM806 296h1v2h-1zM807 295h1v1h-1zM808 294h1v1h-1zM809 293h1v1h-1zM810 292h1v1h-1zM811 291h1v1h-1zM812 290h1v1h-1zM813 289h1v1h-1zM814 288h1v1h-1zM815 287h1v1h-1zM816 286h1v1h-1zM817 285h1v1h-1zM818 284h1v1h-1zM819 282h1v2h-1zM820 281h1v1h-1zM821 280h1v1h-1zM822 279h1v1h-1zM823 278h1v1h-1zM824 277h1v1h-1zM825 276h1v1h-1zM826 275h1v1h-1zM827 274h1v1h-1zM828 273h2v1h-2zM830 272h1v1h-1zM831 271h1v1h-1zM832 270h1v1h-1zM833 269h1v1h-1zM834 268h1v1h-1zM835 267h1v1h-1zM836 266h1v1h-1zM837 265h1v1h-1zM838 264h1v1h-1zM839 263h2v1h-2zM841 262h1v1h-1zM842 261h1v1h-1zM843 260h1v1h-1zM844 259h1v1h-1zM845 258h1v1h-1zM846 257h2v1h-2zM848 256h1v1h-1zM849 255h1v1h-1zM850 254h1v1h-1zM851 253h1v1h-1zM852 252h1v1h-1zM853 251h2v1h-2zM855 250h1v1h-1zM856 249h1v1h-1zM857 248h1v1h-1zM858 247h1v1h-1zM859 246h2v1h-2zM861 245h1v1h-1zM862 244h1v1h-1zM863 243h3v1h-3zM866 242h2v1h-2zM868 241h2v1h-2zM870 240h2v1h-2zM872 239h2v1h-2zM874 238h2v1h-2zM876 237h3v1h-3zM879 236h2v1h-2zM881 235h2v1h-2zM883 234h2v1h-2zM885 233h3v1h-3zM888 232h3v1h-3zM891 231h4v1h-4zM895 230h4v1h-4zM899 229h4v1h-4zM903 228h2v1h-2zM905 227h2v1h-2zM907 226h2v1h-2zM909 225h1v1h-1zM910 224h2v1h-2zM912 223h2v1h-2zM914 222h3v1h-3zM917 221h3v1h-3zM920 220h4v1h-4zM924 219h3v1h-3zM927 218h3v1h-3zM930 217h36v1h-36zM966 218h5v1h-5zM971 219h5v1h-5zM976 220h7v1h-7zM983 221h8v1h-8zM991 222h5v1h-5zM996 223h5v1h-5zM1001 224h5v1h-5zM1006 225h5v1h-5zM1011 226h4v1h-4zM1015 227h5v1h-5zM1020 228h5v1h-5zM1025 229h27v1h-27zM1052 228h10v1h-10zM1062 229h10v1h-10zM1072 230h6v1h-6zM1078 231h6v1h-6zM1084 232h5v1h-5zM1089 231h5v1h-5zM1094 230h5v1h-5zM1099 229h3v1h-3zM1102 228h3v1h-3zM1105 227h3v1h-3zM1108 226h3v1h-3zM1111 225h3v1h-3zM1114 224h1v1h-1zM1115 223h2v1h-2zM1117 222h2v1h-2zM1119 221h1v1h-1zM1120 220h2v1h-2zM1122 219h2v1h-2zM1124 218h1v1h-1zM1125 217h2v1h-2zM1127 216h2v1h-2zM1129 215h1v1h-1zM1130 214h1v1h-1zM1131 213h2v1h-2zM1133 212h1v1h-1zM1134 211h1v1h-1zM1135 210h1v1h-1zM1136 209h2v1h-2zM1138 208h1v1h-1zM1139 207h1v1h-1zM1140 206h1v1h-1zM1141 205h2v1h-2zM1143 204h1v1h-1zM1144 203h2v1h-2zM1146 202h1v1h-1zM1147 201h2v1h-2zM1149 200h1v1h-1zM1150 199h2v1h-2zM1152 198h2v1h-2zM1154 197h1v1h-1zM1155 196h2v1h-2zM1157 195h2v1h-2zM1159 194h1v1h-1zM1160 193h2v1h-2zM1162 192h3v1h-3zM1165 191h2v1h-2zM1167 190h2v1h-2zM1169 189h2v1h-2zM1171 188h3v1h-3zM1174 187h2v1h-2zM1176 186h4v1h-4zM1180 185h4v1h-4zM1184 184h4v1h-4zM1188 183h4v1h-4zM1192 182h7v1h-7zM1199 181h7v1h-7zM1206 180h7v1h-7zM1213 179h6v1h-6zM1219 178h7v1h-7zM1226 177h4v1h-4zM1230 176h2v1h-2zM1232 175h2v1h-2zM1234 174h1v1h-1zM1235 173h2v1h-2zM1237 172h2v1h-2zM1239 171h1v1h-1zM1240 170h5v1h-5zM1245 169h4v1h-4zM1249 168h5v1h-5zM1254 167h4v1h-4zM1258 166h3v1h-3zM1261 165h4v1h-4zM1265 164h4v1h-4zM1269 163h38v1h-38zM1307 162h3v1h-3z"/>
<path fill="#1e90ff" d="M6 648h2v1h-2zM8 647h2v1h-2zM10 646h3v1h-3zM13 645h2v1h-2zM15 646h1v1h-1zM16 647h1v1h-1zM17 648h2v1h-2zM19 649h1v1h-1zM20 650h1v1h-1zM21 651h1v1h-1zM22 652h3v1h-3zM25 653h4v1h-4zM29 654h5v1h-5zM34 653h5v1h-5zM39 654h1v2h-1zM40 656h1v1h-1zM41 657h1v1h-1zM42 658h1v2h-1zM43 660h1v1h-1zM44 661h1v2h-1zM45 663h1v1h-1zM46 665h1v1h-1zM47 664h2v1h-2zM49 663h2v1h-2zM51 662h3v1h-3zM54 661h9v1h-9zM63 662h2v1h-2zM65 663h3v1h-3zM68 664h2v1h-2zM70 665h2v1h-2zM72 664h3v1h-3zM75 663h4v1h-4zM79 662h2v1h-2zM81 661h2v1h-2zM83 660h2v1h-2zM85 659h3v1h-3zM88 660h1v1h-1zM89 661h1v1h-1zM90 662h1v1h-1zM91 663h1v1h-1zM92 664h1v1h-1zM93 665h1v1h-1zM94 666h20v1h-20zM114 667h5v1h-5zM119 666h2v1h-2zM121 665h1v1h-1zM122 664h1v1h-1zM123 663h1v1h-1zM124 662h2v1h-2zM126 661h1v1h-1zM127 662h1v1h-1zM128 663h1v2h-1zM129 665h1v1h-1zM130 666h1v1h-1zM131 667h1v2h-1zM132 669h1v1h-1zM133 670h1v1h-1zM134 671h1v2h-1zM135 673h1v3h-1zM136 676h1v2h-1zM137 678h1v2h-1zM138 680h1v3h-1zM139 683h1v2h-1zM140 685h1v2h-1zM141 687h1v3h-1zM142 691h1v1h-1zM143 690h1v1h-1zM144 689h2v1h-2zM146 688h2v1h-2zM148 687h1v1h-1zM149 686h6v1h-6zM155 687h7v1h-7zM162 686h9v1h-9zM171 687h12v1h-12zM183 688h1v2h-1zM184 690h1v1h-1zM185 691h1v2h-1zM186 693h1v2h-1zM187 695h1v1h-1zM188 696h1v2h-1zM189 698h1v2h-1zM190 700h4v1h-4zM194 701h6v1h-6zM200 700h2v1h-2zM202 699h1v1h-1zM203 698h2v1h-2zM205 697h6v1h-6zM211 698h7v1h-7zM218 699h14v1h-14zM232 698h3v1h-3zM235 697h4v1h-4zM239 696h2v1h-2zM241 695h2v1h-2zM243 694h2v1h-2zM245 693h7v1h-7zM252 694h4v1h-4zM256 695h2v1h-2zM258 696h2v1h-2zM260 697h2v1h-2zM262 698h4v1h-4zM266 697h5v1h-5zM271 698h2v1h-2zM273 699h1v1h-1zM274 700h1v1h-1zM275 701h2v1h-2zM277 702h1v1h-1zM278 703h1v1h-1zM279 702h2v1h-2zM281 701h1v1h-1zM282 700h2v1h-2zM284 699h1v1h-1zM285 698h2v1h-2zM287 697h2v1h-2zM289 696h2v1h-2zM291 695h2v1h-2zM293 694h13v1h-13zM306 695h6v1h-6zM312 696h5v1h-5zM317 697h2v1h-2zM319 695h1v2h-1zM320 694h1v1h-1zM321 693h1v1h-1zM322 691h1v2h-1zM323 690h1v1h-1zM324 688h1v2h-1zM325 687h1v1h-1zM326 686h9v1h-9zM335 687h2v1h-2zM337 688h2v1h-2zM339 689h1v1h-1zM340 690h2v1h-2zM342 691h4v1h-4zM346 690h6v1h-6zM352 691h3v1h-3zM355 692h2v1h-2zM357 693h2v1h-2zM359 692h1v1h-1zM360 691h2v1h-2zM362 690h1v1h-1zM363 689h1v1h-1zM364 688h1v1h-1zM365 687h1v1h-1zM366 686h1v1h-1zM367 685h1v1h-1zM368 684h1v1h-1zM369 683h1v1h-1zM370 681h1v2h-1zM371 680h1v1h-1zM372 679h1v1h-1zM373 678h1v1h-1zM374 676h1v2h-1zM375 673h1v3h-1zM376 671h1v2h-1zM377 668h1v3h-1zM378 665h1v3h-1zM379 663h1v2h-1zM380 660h1v3h-1zM381 658h1v2h-1zM382 656h1v1h-1zM383 657h1v1h-1zM384 658h1v1h-1zM385 659h2v1h-2zM387 660h1v1h-1zM388 661h1v1h-1zM389 662h1v1h-1zM390 663h4v1h-4zM394 662h9v1h-9zM403 663h6v1h-6zM409 664h4v1h-4zM413 665h3v1h-3zM416 666h3v1h-3zM419 667h2v1h-2zM421 668h2v1h-2zM423 667h2v1h-2zM425 666h2v1h-2zM427 665h2v1h-2zM429 664h5v1h-5zM434 663h8v1h-8zM442 662h5v1h-5zM447 661h2v1h-2zM449 660h1v1h-1zM450 659h2v1h-2zM452 658h2v1h-2zM454 657h1v1h-1zM455 658h2v1h-2zM457 659h2v1h-2zM459 660h1v1h-1zM460 661h2v1h-2zM462 662h10v1h-10zM472 663h3v1h-3zM475 664h2v1h-2zM477 665h4v1h-4zM481 664h6v1h-6zM487 663h5v1h-5zM492 662h3v1h-3zM495 663h1v1h-1zM496 664h1v2h-1zM497 666h1v1h-1zM498 667h1v2h-1zM499 669h1v1h-1zM500 670h1v1h-1zM501 671h1v2h-1zM502 673h4v1h-4zM506 672h6v1h-6zM512 673h2v1h-2zM514 674h3v1h-3zM517 675h2v1h-2zM519 676h1v1h-1zM520 677h1v2h-1zM521 679h1v1h-1zM522 680h1v1h-1zM523 681h1v1h-1zM524 682h1v2h-1zM525 684h1v1h-1zM526 685h12v1h-12zM538 684h9v1h-9zM547 685h3v1h-3zM550 684h1v1h-1zM551 682h1v2h-1zM552 679h1v3h-1zM553 677h1v2h-1zM554 674h1v3h-1zM555 672h1v2h-1zM556 669h1v3h-1zM557 667h1v2h-1zM558 666h1v1h-1zM559 665h1v1h-1zM560 666h2v1h-2zM562 667h2v1h-2zM564 668h2v1h-2zM566 669h3v1h-3zM569 670h2v1h-2zM571 671h2v1h-2zM573 672h2v1h-2zM575 673h1v1h-1zM576 674h1v1h-1zM577 675h1v1h-1zM578 676h1v1h-1zM579 677h1v1h-1zM580 678h1v1h-1zM581 679h1v1h-1zM582 681h5v1h-5zM587 682h4v1h-4zM591 683h2v1h-2zM593 684h1v1h-1zM594 685h2v1h-2zM596 686h1v1h-1zM597 687h1v1h-1zM598 688h2v1h-2zM600 689h2v1h-2zM602 690h2v1h-2zM604 691h2v1h-2zM606 692h1v1h-1zM607 691h1v1h-1zM608 690h1v1h-1zM609 689h2v1h-2zM611 688h1v1h-1zM612 687h1v1h-1zM613 686h1v1h-1zM614 684h1v2h-1zM615 681h1v3h-1zM616 678h1v3h-1zM617 675h1v3h-1zM618 672h1v3h-1zM619 669h1v3h-1zM620 666h1v3h-1zM621 663h1v3h-1zM622 661h1v2h-1zM623 661h1v1h-1zM624 660h2v1h-2zM626 659h2v1h-2zM628 658h3v1h-3zM631 657h5v1h-5zM636 656h4v1h-4zM640 655h4v1h-4zM644 654h3v1h-3zM647 653h2v1h-2zM649 652h1v1h-1zM650 651h2v1h-2zM652 650h1v1h-1zM653 649h2v1h-2zM655 648h2v1h-2zM657 647h2v1h-2zM659 646h2v1h-2zM661 645h2v1h-2zM663 644h1v1h-1zM664 643h2v1h-2zM666 642h2v1h-2zM668 641h2v1h-2zM670 640h2v1h-2zM672 639h2v1h-2zM674 638h2v1h-2zM676 637h3v1h-3zM679 636h3v1h-3zM682 635h3v1h-3zM685 634h4v1h-4zM689 633h6v1h-6zM695 632h4v1h-4zM699 631h4v1h-4zM703 630h8v1h-8zM711 629h4v1h-4zM715 628h4v1h-4zM719 627h5v1h-5zM724 626h6v1h-6zM730 627h5v1h-5zM735 628h1v1h-1zM736 629h1v1h-1zM737 630h1v1h-1zM738 631h1v1h-1zM739 632h1v1h-1zM740 633h1v1h-1zM741 634h1v1h-1zM742 635h1v1h-1zM743 634h2v1h-2zM745 633h2v1h-2zM747 632h2v1h-2zM749 631h2v1h-2zM751 632h1v2h-1zM752 634h1v1h-1zM753 635h1v2h-1zM754 637h1v2h-1zM755 639h1v1h-1zM756 640h1v2h-1zM757 642h1v2h-1zM758 644h3v1h-3zM761 645h4v1h-4zM765 646h3v1h-3zM768 645h2v1h-2zM770 644h3v1h-3zM773 643h3v1h-3zM776 644h3v1h-3zM779 645h2v1h-2zM781 646h5v1h-5zM786 645h5v1h-5zM791 644h1v1h-1zM792 643h2v1h-2zM794 642h1v1h-1zM795 641h2v1h-2zM797 640h1v1h-1zM798 639h5v1h-5zM803 638h4v1h-4zM807 639h1v2h-1zM808 641h1v2h-1zM809 643h1v2h-1zM810 645h1v1h-1zM811 646h1v2h-1zM812 648h1v2h-1zM813 650h1v2h-1zM814 652h10v1h-10zM824 651h4v1h-4zM828 650h11v1h-11zM839 649h2v1h-2zM841 648h2v1h-2zM843 647h2v1h-2zM845 646h3v1h-3zM848 645h4v1h-4zM852 644h6v1h-6zM858 643h5v1h-5zM863 644h1v2h-1zM864 646h1v1h-1zM865 647h1v2h-1zM866 649h1v1h-1zM867 650h1v2h-1zM868 652h1v1h-1zM869 653h1v2h-1zM870 655h12v1h-12zM882 656h6v1h-6zM888 655h3v1h-3zM891 654h2v1h-2zM893 653h10v1h-10zM903 652h1v1h-1zM904 651h1v1h-1zM905 650h2v1h-2zM907 649h1v1h-1zM908 648h2v1h-2zM910 647h9v1h-9zM919 648h1v2h-1zM920 650h1v2h-1zM921 652h1v1h-1zM922 653h1v2h-1zM923 655h1v1h-1zM924 656h1v2h-1zM925 658h1v2h-1zM926 660h1v1h-1zM927 661h1v2h-1zM928 663h1v2h-1zM929 665h1v1h-1zM930 666h1v2h-1zM931 668h1v2h-1zM932 670h1v1h-1zM933 671h1v2h-1zM934 673h1v1h-1zM935 674h1v1h-1zM936 675h2v1h-2zM938 676h1v1h-1zM939 677h2v1h-2zM941 678h1v1h-1zM942 679h5v1h-5zM947 680h4v1h-4zM951 679h2v1h-2zM953 678h2v1h-2zM955 677h1v1h-1zM956 676h2v1h-2zM958 675h10v1h-10zM968 674h3v1h-3zM971 673h2v1h-2zM973 672h5v1h-5zM978 673h5v1h-5zM983 674h1v2h-1zM984 676h1v1h-1zM985 677h1v1h-1zM986 678h1v2h-1zM987 680h1v1h-1zM988 681h1v1h-1zM989 682h1v2h-1zM990 684h2v1h-2zM992 685h2v1h-2zM994 686h2v1h-2zM996 687h2v1h-2zM998 688h1v1h-1zM999 686h1v2h-1zM1000 685h1v1h-1zM1001 684h1v1h-1zM1002 682h1v2h-1zM1003 681h1v1h-1zM1004 679h1v2h-1zM1005 678h1v1h-1zM1006 677h2v1h-2zM1008 676h4v1h-4zM1012 675h6v1h-6zM1018 674h5v1h-5zM1023 673h1v1h-1zM1024 672h1v1h-1zM1025 671h1v1h-1zM1026 670h1v1h-1zM1027 669h1v1h-1zM1028 668h1v1h-1zM1029 667h1v1h-1zM1030 666h1v1h-1zM1031 665h1v1h-1zM1032 664h1v1h-1zM1033 663h1v1h-1zM1034 662h2v1h-2zM1036 661h1v1h-1zM1037 660h1v1h-1zM1038 659h1v1h-1zM1039 660h2v1h-2zM1041 661h2v1h-2zM1043 662h1v1h-1zM1044 663h2v1h-2zM1046 664h4v1h-4zM1050 663h5v1h-5zM1055 664h2v1h-2zM1057 665h2v1h-2zM1059 666h1v1h-1zM1060 667h2v1h-2zM1062 668h4v1h-4zM1066 667h7v1h-7zM1073 666h6v1h-6zM1079 665h1v1h-1zM1080 664h2v1h-2zM1082 663h2v1h-2zM1084 662h2v1h-2zM1086 661h9v1h-9zM1095 660h3v1h-3zM1098 659h2v1h-2zM1100 658h3v1h-3zM1103 657h2v1h-2zM1105 656h3v1h-3zM1108 655h3v1h-3zM1111 654h1v1h-1zM1112 653h2v1h-2zM1114 652h2v1h-2zM1116 651h2v1h-2zM1118 650h5v1h-5zM1123 649h4v1h-4zM1127 648h1v1h-1zM1128 646h1v2h-1zM1129 645h1v1h-1zM1130 644h1v1h-1zM1131 643h1v1h-1zM1132 641h1v2h-1zM1133 640h1v1h-1zM1134 639h3v1h-3zM1137 640h4v1h-4zM1141 641h2v1h-2zM1143 642h1v2h-1zM1144 644h1v1h-1zM1145 645h1v1h-1zM1146 646h1v2h-1zM1147 648h1v1h-1zM1148 649h1v2h-1zM1149 651h1v1h-1zM1150 652h1v2h-1zM1151 654h1v2h-1zM1152 656h1v2h-1zM1153 658h1v2h-1zM1154 660h1v3h-1zM1155 663h1v2h-1zM1156 665h1v2h-1zM1157 667h1v2h-1zM1158 669h1v1h-1zM1159 670h1v1h-1zM1160 671h2v1h-2zM1162 672h2v1h-2zM1164 673h2v1h-2zM1166 674h1v1h-1zM1167 673h2v1h-2zM1169 672h1v1h-1zM1170 671h2v1h-2zM1172 670h2v1h-2zM1174 669h1v1h-1zM1175 670h1v1h-1zM1176 671h1v2h-1zM1177 673h1v1h-1zM1178 674h1v1h-1zM1179 675h1v1h-1zM1180 676h1v2h-1zM1181 678h1v1h-1zM1182 679h4v1h-4zM1186 678h5v1h-5zM1191 677h1v1h-1zM1192 676h1v1h-1zM1193 675h1v1h-1zM1194 674h2v1h-2zM1196 673h1v1h-1zM1197 672h1v1h-1zM1198 671h5v1h-5zM1203 672h8v1h-8zM1211 673h5v1h-5zM1216 672h4v1h-4zM1220 671h3v1h-3zM1223 670h2v1h-2zM1225 669h2v1h-2zM1227 668h2v1h-2zM1229 667h2v1h-2zM1231 665h1v1h-1zM1232 664h1v1h-1zM1233 663h1v1h-1zM1234 662h1v1h-1zM1235 661h1v1h-1zM1236 660h1v1h-1zM1237 659h1v1h-1zM1238 658h1v1h-1zM1239 659h1v1h-1zM1240 660h1v1h-1zM1241 661h1v1h-1zM1242 662h1v1h-1zM1243 663h1v1h-1zM1244 664h1v1h-1zM1245 665h1v1h-1zM1246 666h12v1h-12zM1258 667h6v1h-6zM1264 668h2v1h-2zM1266 669h3v1h-3zM1269 670h6v1h-6zM1275 671h5v1h-5zM1280 672h3v1h-3zM1283 673h2v1h-2zM1285 674h2v1h-2zM1287 673h2v1h-2zM1289 672h1v1h-1zM1290 671h2v1h-2zM1292 670h2v1h-2zM1294 669h1v1h-1zM1295 667h1v2h-1zM1296 665h1v2h-1zM1297 663h1v2h-1zM1298 662h1v1h-1zM1299 660h1v2h-1zM1300 658h1v2h-1zM1301 656h1v2h-1zM1302 655h1v1h-1zM1303 654h2v1h-2zM1305 653h1v1h-1zM1306 652h2v1h-2zM1308 651h2v1h-2z"/>
</g>
<g fill="none" stroke-width="1" shape-rendering="crispEdges">
<polyline stroke="#ff0000" stroke-dasharray="3,3" points="6.5,584.4 26.5,582.0 50.5,579.0 74.5,575.6 90.5,575.2 94.5,576.4 120.5,577.6 140.5,579.0 166.5,582.4 170.5,585.0 190.5,587.6 200.5,590.4 210.5,593.0 220.5,596.0 230.5,598.0 240.5,600.6 260.5,603.0 280.5,604.0 336.5,604.0 345.5,602.8 371.5,602.0 387.5,600.0 395.5,597.0 415.5,595.6 421.5,593.0 435.5,591.0 451.5,588.4 471.5,586.0 495.5,584.4 543.5,584.4 549.5,586.4 569.5,587.0 575.5,588.6 595.5,589.4 615.5,590.4 635.5,590.4 655.5,589.4 661.5,587.0 671.5,585.6 679.5,584.6 686.5,581.0 702.5,576.6 710.5,573.0 720.5,570.0 734.5,564.0 750.5,559.4 758.5,556.0 774.5,553.4 790.5,552.4 824.5,552.4 842.5,553.4 854.5,555.4 878.5,557.0 884.5,558.6 906.5,561.0 930.5,564.0 946.5,566.0 950.5,567.6 962.5,570.6 982.5,574.0 998.5,579.4 1002.5,580.4 1008.5,581.0 1010.5,582.6 1020.5,584.4 1030.5,586.4 1050.5,586.4 1054.5,587.6 1058.5,586.4 1080.5,585.4 1104.5,583.0 1120.5,581.0 1140.5,578.6 1148.5,576.6 1158.5,575.0 1200.5,574.4 1204.5,576.0 1220.5,578.0 1236.5,581.4 1308.5,581.4 1310.5,580.0"/>
</g>
<g shape-rendering="crispEdges">
<rect x="6" y="375" width="1" height="18" fill="#ff4500"/>
<rect x="6" y="384" width="3" height="9" fill="#ff4500"/>
<rect x="14" y="372" width="1" height="14" fill="#ff4500"/>
<rect x="12" y="372" width="5" height="13" fill="#ff4500"/>
<rect x="22" y="365" width="1" height="26" fill="#32cd32"/>
<rect x="20" y="372" width="5" height="13" fill="#32cd32"/>
<rect x="30" y="381" width="1" height="17" fill="#32cd32"/>
<rect x="28" y="384" width="5" height="6" fill="#32cd32"/>
<rect x="38" y="386" width="1" height="16" fill="#ff4500"/>
<rect x="36" y="386" width="5" height="4" fill="#ff4500"/>
<rect x="46" y="383" width="1" height="30" fill="#32cd32"/>
<rect x="44" y="386" width="5" height="24" fill="#32cd32"/>
<rect x="54" y="395" width="1" height="16" fill="#ff4500"/>
<rect x="52" y="396" width="5" height="13" fill="#ff4500"/>
<rect x="62" y="394" width="1" height="5" fill="#ff4500"/>
<rect x="60" y="395" width="5" height="2" fill="#ff4500"/>
<rect x="70" y="390" width="1" height="15" fill="#32cd32"/>
<rect x="68" y="395" width="5" height="8" fill="#32cd32"/>
<rect x="78" y="396" width="1" height="20" fill="#ff4500"/>
<rect x="76" y="398" width="5" height="5" fill="#ff4500"/>
<rect x="86" y="385" width="1" height="16" fill="#ff4500"/>
<rect x="84" y="386" width="5" height="13" fill="#ff4500"/>
<rect x="94" y="377" width="1" height="31" fill="#32cd32"/>
<rect x="92" y="385" width="5" height="16" fill="#32cd32"/>
<rect x="102" y="390" width="1" height="13" fill="#ff4500"/>
<rect x="100" y="399" width="5" height="2" fill="#ff4500"/>
<rect x="110" y="395" width="1" height="7" fill="#ff4500"/>
<rect x="108" y="398" width="5" height="2" fill="#ff4500"/>
<rect x="118" y="394" width="1" height="12" fill="#32cd32"/>
<rect x="116" y="398" width="5" height="3" fill="#32cd32"/>
<rect x="126" y="387" width="1" height="15" fill="#ff4500"/>
<rect x="124" y="388" width="5" height="13" fill="#ff4500"/>
<rect x="134" y="388" width="1" height="25" fill="#32cd32"/>
<rect x="132" y="389" width="5" height="23" fill="#32cd32"/>
<rect x="142" y="406" width="1" height="55" fill="#32cd32"/>
<rect x="140" y="412" width="5" height="45" fill="#32cd32"/>
<rect x="150" y="445" width="1" height="13" fill="#ff4500"/>
<rect x="148" y="446" width="5" height="11" fill="#ff4500"/>
<rect x="158" y="446" width="1" height="6" fill="#32cd32"/>
<rect x="156" y="446" width="5" height="6" fill="#32cd32"/>
<rect x="166" y="448" width="1" height="9" fill="#ff4500"/>
<rect x="164" y="449" width="5" height="3" fill="#ff4500"/>
<rect x="174" y="436" width="1" height="17" fill="#32cd32"/>
<rect x="172" y="450" width="5" height="1" fill="#32cd32"/>
<rect x="182" y="444" width="1" height="15" fill="#32cd32"/>
<rect x="180" y="450" width="5" height="2" fill="#32cd32"/>
<rect x="190" y="447" width="1" height="57" fill="#32cd32"/>
<rect x="188" y="451" width="5" height="45" fill="#32cd32"/>
<rect x="198" y="492" width="1" height="14" fill="#32cd32"/>
<rect x="196" y="495" width="5" height="5" fill="#32cd32"/>
<rect x="206" y="489" width="1" height="7" fill="#32cd32"/>
<rect x="204" y="490" width="5" height="2" fill="#32cd32"/>
<rect x="214" y="486" width="1" height="15" fill="#32cd32"/>
<rect x="212" y="493" width="5" height="3" fill="#32cd32"/>
<rect x="222" y="494" width="1" height="13" fill="#32cd32"/>
<rect x="220" y="496" width="5" height="4" fill="#32cd32"/>
<rect x="230" y="495" width="1" height="17" fill="#ff4500"/>
<rect x="228" y="499" width="5" height="1" fill="#ff4500"/>
<rect x="238" y="485" width="1" height="20" fill="#ff4500"/>
<rect x="236" y="495" width="5" height="5" fill="#ff4500"/>
<rect x="246" y="487" width="1" height="16" fill="#ff4500"/>
<rect x="244" y="490" width="5" height="6" fill="#ff4500"/>
<rect x="254" y="489" width="1" height="7" fill="#32cd32"/>
<rect x="252" y="490" width="5" height="4" fill="#32cd32"/>
<rect x="262" y="493" width="1" height="11" fill="#32cd32"/>
<rect x="260" y="493" width="5" height="10" fill="#32cd32"/>
<rect x="270" y="497" width="1" height="13" fill="#ff4500"/>
<rect x="268" y="501" width="5" height="2" fill="#ff4500"/>
<rect x="278" y="498" width="1" height="24" fill="#32cd32"/>
<rect x="276" y="501" width="5" height="19" fill="#32cd32"/>
<rect x="286" y="505" width="1" height="28" fill="#ff4500"/>
<rect x="284" y="512" width="5" height="8" fill="#ff4500"/>
<rect x="294" y="506" width="1" height="12" fill="#ff4500"/>
<rect x="292" y="506" width="5" height="7" fill="#ff4500"/>
<rect x="302" y="505" width="1" height="5" fill="#32cd32"/>
<rect x="300" y="506" width="5" height="2" fill="#32cd32"/>
<rect x="310" y="503" width="1" height="12" fill="#32cd32"/>
<rect x="308" y="506" width="5" height="5" fill="#32cd32"/>
<rect x="318" y="508" width="1" height="10" fill="#32cd32"/>
<rect x="316" y="510" width="5" height="5" fill="#32cd32"/>
<rect x="326" y="497" width="1" height="20" fill="#ff4500"/>
<rect x="324" y="500" width="5" height="14" fill="#ff4500"/>
<rect x="334" y="493" width="1" height="22" fill="#32cd32"/>
<rect x="332" y="500" width="5" height="2" fill="#32cd32"/>
<rect x="342" y="497" width="1" height="17" fill="#32cd32"/>
<rect x="340" y="501" width="5" height="11" fill="#32cd32"/>
<rect x="350" y="507" width="1" height="9" fill="#ff4500"/>
<rect x="348" y="509" width="5" height="3" fill="#ff4500"/>
<rect x="358" y="507" width="1" height="9" fill="#32cd32"/>
<rect x="356" y="509" width="5" height="6" fill="#32cd32"/>
<rect x="366" y="504" width="1" height="12" fill="#ff4500"/>
<rect x="364" y="507" width="5" height="9" fill="#ff4500"/>
<rect x="374" y="491" width="1" height="19" fill="#ff4500"/>
<rect x="372" y="494" width="5" height="14" fill="#ff4500"/>
<rect x="382" y="444" width="1" height="52" fill="#ff4500"/>
<rect x="380" y="449" width="5" height="46" fill="#ff4500"/>
<rect x="390" y="446" width="1" height="18" fill="#32cd32"/>
<rect x="388" y="449" width="5" height="14" fill="#32cd32"/>
<rect x="398" y="458" width="1" height="8" fill="#ff4500"/>
<rect x="396" y="459" width="5" height="4" fill="#ff4500"/>
<rect x="406" y="457" width="1" height="12" fill="#32cd32"/>
<rect x="404" y="460" width="5" height="2" fill="#32cd32"/>
<rect x="414" y="454" width="1" height="13" fill="#32cd32"/>
<rect x="412" y="460" width="5" height="5" fill="#32cd32"/>
<rect x="422" y="463" width="1" height="14" fill="#32cd32"/>
<rect x="420" y="464" width="5" height="6" fill="#32cd32"/>
<rect x="430" y="457" width="1" height="20" fill="#ff4500"/>
<rect x="428" y="461" width="5" height="9" fill="#ff4500"/>
<rect x="438" y="455" width="1" height="8" fill="#ff4500"/>
<rect x="436" y="458" width="5" height="4" fill="#ff4500"/>
<rect x="446" y="455" width="1" height="5" fill="#32cd32"/>
<rect x="444" y="456" width="5" height="2" fill="#32cd32"/>
<rect x="454" y="443" width="1" height="19" fill="#ff4500"/>
<rect x="452" y="446" width="5" height="12" fill="#ff4500"/>
<rect x="462" y="444" width="1" height="11" fill="#32cd32"/>
<rect x="460" y="446" width="5" height="8" fill="#32cd32"/>
<rect x="470" y="446" width="1" height="8" fill="#32cd32"/>
<rect x="468" y="452" width="5" height="1" fill="#32cd32"/>
<rect x="478" y="448" width="1" height="9" fill="#32cd32"/>
<rect x="476" y="452" width="5" height="4" fill="#32cd32"/>
<rect x="486" y="453" width="1" height="4" fill="#ff4500"/>
<rect x="484" y="454" width="5" height="2" fill="#ff4500"/>
<rect x="494" y="450" width="1" height="6" fill="#ff4500"/>
<rect x="492" y="451" width="5" height="5" fill="#ff4500"/>
<rect x="502" y="447" width="1" height="21" fill="#32cd32"/>
<rect x="500" y="451" width="5" height="14" fill="#32cd32"/>
<rect x="510" y="459" width="1" height="10" fill="#ff4500"/>
<rect x="508" y="463" width="5" height="2" fill="#ff4500"/>
<rect x="518" y="455" width="1" height="13" fill="#32cd32"/>
<rect x="516" y="463" width="5" height="5" fill="#32cd32"/>
<rect x="526" y="466" width="1" height="34" fill="#32cd32"/>
<rect x="524" y="467" width="5" height="17" fill="#32cd32"/>
<rect x="534" y="482" width="1" height="11" fill="#ff4500"/>
<rect x="532" y="482" width="5" height="2" fill="#ff4500"/>
<rect x="542" y="479" width="1" height="8" fill="#ff4500"/>
<rect x="540" y="481" width="5" height="2" fill="#ff4500"/>
<rect x="550" y="470" width="1" height="16" fill="#32cd32"/>
<rect x="548" y="481" width="5" height="2" fill="#32cd32"/>
<rect x="558" y="454" width="1" height="29" fill="#ff4500"/>
<rect x="556" y="456" width="5" height="27" fill="#ff4500"/>
<rect x="566" y="453" width="1" height="16" fill="#32cd32"/>
<rect x="564" y="456" width="5" height="5" fill="#32cd32"/>
<rect x="574" y="453" width="1" height="29" fill="#32cd32"/>
<rect x="572" y="460" width="5" height="5" fill="#32cd32"/>
<rect x="582" y="462" width="1" height="23" fill="#32cd32"/>
<rect x="580" y="464" width="5" height="15" fill="#32cd32"/>
<rect x="590" y="478" width="1" height="6" fill="#32cd32"/>
<rect x="588" y="478" width="5" height="4" fill="#32cd32"/>
<rect x="598" y="479" width="1" height="16" fill="#32cd32"/>
<rect x="596" y="481" width="5" height="10" fill="#32cd32"/>
<rect x="606" y="488" width="1" height="18" fill="#32cd32"/>
<rect x="604" y="490" width="5" height="9" fill="#32cd32"/>
<rect x="614" y="491" width="1" height="11" fill="#ff4500"/>
<rect x="612" y="491" width="5" height="8" fill="#ff4500"/>
<rect x="622" y="435" width="1" height="58" fill="#ff4500"/>
<rect x="620" y="444" width="5" height="48" fill="#ff4500"/>
<rect x="630" y="436" width="1" height="16" fill="#ff4500"/>
<rect x="628" y="436" width="5" height="9" fill="#ff4500"/>
<rect x="638" y="427" width="1" height="16" fill="#ff4500"/>
<rect x="636" y="428" width="5" height="9" fill="#ff4500"/>
<rect x="646" y="415" width="1" height="15" fill="#ff4500"/>
<rect x="644" y="423" width="5" height="6" fill="#ff4500"/>
<rect x="654" y="402" width="1" height="23" fill="#ff4500"/>
<rect x="652" y="405" width="5" height="19" fill="#ff4500"/>
<rect x="662" y="385" width="1" height="27" fill="#ff4500"/>
<rect x="660" y="393" width="5" height="13" fill="#ff4500"/>
<rect x="670" y="359" width="1" height="46" fill="#ff4500"/>
<rect x="668" y="372" width="5" height="22" fill="#ff4500"/>
<rect x="678" y="346" width="1" height="28" fill="#ff4500"/>
<rect x="676" y="350" width="5" height="23" fill="#ff4500"/>
<rect x="686" y="334" width="1" height="13" fill="#ff4500"/>
<rect x="684" y="334" width="5" height="6" fill="#ff4500"/>
<rect x="694" y="318" width="1" height="22" fill="#ff4500"/>
<rect x="692" y="322" width="5" height="14" fill="#ff4500"/>
<rect x="702" y="305" width="1" height="31" fill="#ff4500"/>
<rect x="700" y="306" width="5" height="17" fill="#ff4500"/>
<rect x="710" y="290" width="1" height="26" fill="#ff4500"/>
<rect x="708" y="297" width="5" height="10" fill="#ff4500"/>
<rect x="718" y="281" width="1" height="38" fill="#ff4500"/>
<rect x="716" y="285" width="5" height="12" fill="#ff4500"/>
<rect x="726" y="242" width="1" height="44" fill="#ff4500"/>
<rect x="724" y="255" width="5" height="31" fill="#ff4500"/>
<rect x="734" y="251" width="1" height="10" fill="#32cd32"/>
<rect x="732" y="255" width="5" height="2" fill="#32cd32"/>
<rect x="742" y="246" width="1" height="29" fill="#32cd32"/>
<rect x="740" y="257" width="5" height="13" fill="#32cd32"/>
<rect x="750" y="238" width="1" height="34" fill="#ff4500"/>
<rect x="748" y="240" width="5" height="30" fill="#ff4500"/>
<rect x="758" y="237" width="1" height="31" fill="#32cd32"/>
<rect x="756" y="240" width="5" height="26" fill="#32cd32"/>
<rect x="766" y="238" width="1" height="45" fill="#32cd32"/>
<rect x="764" y="265" width="5" height="5" fill="#32cd32"/>
<rect x="774" y="241" width="1" height="30" fill="#ff4500"/>
<rect x="772" y="250" width="5" height="20" fill="#ff4500"/>
<rect x="782" y="249" width="1" height="11" fill="#32cd32"/>
<rect x="780" y="250" width="5" height="6" fill="#32cd32"/>
<rect x="790" y="244" width="1" height="12" fill="#ff4500"/>
<rect x="788" y="249" width="5" height="7" fill="#ff4500"/>
<rect x="798" y="205" width="1" height="50" fill="#ff4500"/>
<rect x="796" y="215" width="5" height="35" fill="#ff4500"/>
<rect x="806" y="182" width="1" height="42" fill="#ff4500"/>
<rect x="804" y="208" width="5" height="8" fill="#ff4500"/>
<rect x="814" y="163" width="1" height="85" fill="#32cd32"/>
<rect x="812" y="207" width="5" height="32" fill="#32cd32"/>
<rect x="822" y="229" width="1" height="16" fill="#ff4500"/>
<rect x="820" y="236" width="5" height="3" fill="#ff4500"/>
<rect x="830" y="213" width="1" height="23" fill="#ff4500"/>
<rect x="828" y="228" width="5" height="8" fill="#ff4500"/>
<rect x="838" y="225" width="1" height="22" fill="#ff4500"/>
<rect x="836" y="226" width="5" height="3" fill="#ff4500"/>
<rect x="846" y="204" width="1" height="28" fill="#ff4500"/>
<rect x="844" y="208" width="5" height="19" fill="#ff4500"/>
<rect x="854" y="196" width="1" height="15" fill="#ff4500"/>
<rect x="852" y="199" width="5" height="11" fill="#ff4500"/>
<rect x="862" y="186" width="1" height="32" fill="#ff4500"/>
<rect x="860" y="191" width="5" height="9" fill="#ff4500"/>
<rect x="870" y="184" width="1" height="34" fill="#32cd32"/>
<rect x="868" y="190" width="5" height="24" fill="#32cd32"/>
<rect x="878" y="203" width="1" height="16" fill="#32cd32"/>
<rect x="876" y="214" width="5" height="2" fill="#32cd32"/>
<rect x="886" y="211" width="1" height="12" fill="#32cd32"/>
<rect x="884" y="216" width="5" height="2" fill="#32cd32"/>
<rect x="894" y="205" width="1" height="26" fill="#ff4500"/>
<rect x="892" y="205" width="5" height="13" fill="#ff4500"/>
<rect x="902" y="202" width="1" height="17" fill="#ff4500"/>
<rect x="900" y="204" width="5" height="2" fill="#ff4500"/>
<rect x="910" y="142" width="1" height="65" fill="#ff4500"/>
<rect x="908" y="182" width="5" height="23" fill="#ff4500"/>
<rect x="918" y="163" width="1" height="26" fill="#ff4500"/>
<rect x="916" y="181" width="5" height="2" fill="#ff4500"/>
<rect x="926" y="203" width="1" height="8" fill="#ff4500"/>
<rect x="924" y="207" width="5" height="3" fill="#ff4500"/>
<rect x="934" y="194" width="1" height="45" fill="#32cd32"/>
<rect x="932" y="207" width="5" height="29" fill="#32cd32"/>
<rect x="942" y="233" width="1" height="21" fill="#32cd32"/>
<rect x="940" y="235" width="5" height="18" fill="#32cd32"/>
<rect x="950" y="236" width="1" height="21" fill="#32cd32"/>
<rect x="948" y="252" width="5" height="5" fill="#32cd32"/>
<rect x="958" y="232" width="1" height="25" fill="#ff4500"/>
<rect x="956" y="242" width="5" height="15" fill="#ff4500"/>
<rect x="966" y="233" width="1" height="24" fill="#32cd32"/>
<rect x="964" y="242" width="5" height="1" fill="#32cd32"/>
<rect x="974" y="235" width="1" height="11" fill="#ff4500"/>
<rect x="972" y="236" width="5" height="6" fill="#ff4500"/>
<rect x="982" y="233" width="1" height="12" fill="#32cd32"/>
<rect x="980" y="236" width="5" height="4" fill="#32cd32"/>
<rect x="990" y="236" width="1" height="37" fill="#32cd32"/>
<rect x="988" y="239" width="5" height="30" fill="#32cd32"/>
<rect x="998" y="264" width="1" height="19" fill="#32cd32"/>
<rect x="996" y="269" width="5" height="12" fill="#32cd32"/>
<rect x="1006" y="248" width="1" height="35" fill="#ff4500"/>
<rect x="1004" y="253" width="5" height="27" fill="#ff4500"/>
<rect x="1014" y="238" width="1" height="16" fill="#ff4500"/>
<rect x="1012" y="248" width="5" height="6" fill="#ff4500"/>
<rect x="1022" y="243" width="1" height="7" fill="#ff4500"/>
<rect x="1020" y="243" width="5" height="6" fill="#ff4500"/>
<rect x="1030" y="214" width="1" height="39" fill="#ff4500"/>
<rect x="1028" y="220" width="5" height="24" fill="#ff4500"/>
<rect x="1038" y="193" width="1" height="31" fill="#ff4500"/>
<rect x="1036" y="196" width="5" height="26" fill="#ff4500"/>
<rect x="1046" y="191" width="1" height="21" fill="#32cd32"/>
<rect x="1044" y="196" width="5" height="12" fill="#32cd32"/>
<rect x="1054" y="202" width="1" height="31" fill="#ff4500"/>
<rect x="1052" y="205" width="5" height="3" fill="#ff4500"/>
<rect x="1062" y="197" width="1" height="28" fill="#32cd32"/>
<rect x="1060" y="206" width="5" height="13" fill="#32cd32"/>
<rect x="1070" y="212" width="1" height="8" fill="#ff4500"/>
<rect x="1068" y="215" width="5" height="3" fill="#ff4500"/>
<rect x="1078" y="194" width="1" height="27" fill="#ff4500"/>
<rect x="1076" y="211" width="5" height="5" fill="#ff4500"/>
<rect x="1086" y="191" width="1" height="22" fill="#ff4500"/>
<rect x="1084" y="198" width="5" height="14" fill="#ff4500"/>
<rect x="1094" y="187" width="1" height="22" fill="#ff4500"/>
<rect x="1092" y="197" width="5" height="2" fill="#ff4500"/>
<rect x="1102" y="180" width="1" height="35" fill="#ff4500"/>
<rect x="1100" y="187" width="5" height="11" fill="#ff4500"/>
<rect x="1110" y="167" width="1" height="23" fill="#ff4500"/>
<rect x="1108" y="176" width="5" height="12" fill="#ff4500"/>
<rect x="1118" y="160" width="1" height="18" fill="#ff4500"/>
<rect x="1116" y="160" width="5" height="17" fill="#ff4500"/>
<rect x="1126" y="144" width="1" height="31" fill="#ff4500"/>
<rect x="1124" y="155" width="5" height="7" fill="#ff4500"/>
<rect x="1134" y="93" width="1" height="69" fill="#ff4500"/>
<rect x="1132" y="109" width="5" height="47" fill="#ff4500"/>
<rect x="1142" y="104" width="1" height="20" fill="#32cd32"/>
<rect x="1140" y="109" width="5" height="3" fill="#32cd32"/>
<rect x="1150" y="107" width="1" height="48" fill="#32cd32"/>
<rect x="1148" y="111" width="5" height="25" fill="#32cd32"/>
<rect x="1158" y="133" width="1" height="62" fill="#32cd32"/>
<rect x="1156" y="135" width="5" height="44" fill="#32cd32"/>
<rect x="1166" y="176" width="1" height="15" fill="#32cd32"/>
<rect x="1164" y="177" width="5" height="14" fill="#32cd32"/>
<rect x="1174" y="165" width="1" height="38" fill="#ff4500"/>
<rect x="1172" y="172" width="5" height="19" fill="#ff4500"/>
<rect x="1182" y="171" width="1" height="41" fill="#32cd32"/>
<rect x="1180" y="172" width="5" height="36" fill="#32cd32"/>
<rect x="1190" y="198" width="1" height="20" fill="#ff4500"/>
<rect x="1188" y="203" width="5" height="5" fill="#ff4500"/>
<rect x="1198" y="167" width="1" height="38" fill="#ff4500"/>
<rect x="1196" y="179" width="5" height="25" fill="#ff4500"/>
<rect x="1206" y="174" width="1" height="19" fill="#32cd32"/>
<rect x="1204" y="178" width="5" height="6" fill="#32cd32"/>
<rect x="1214" y="180" width="1" height="9" fill="#32cd32"/>
<rect x="1212" y="182" width="5" height="3" fill="#32cd32"/>
<rect x="1222" y="172" width="1" height="18" fill="#ff4500"/>
<rect x="1220" y="178" width="5" height="6" fill="#ff4500"/>
<rect x="1230" y="143" width="1" height="37" fill="#ff4500"/>
<rect x="1228" y="160" width="5" height="19" fill="#ff4500"/>
<rect x="1238" y="128" width="1" height="37" fill="#ff4500"/>
<rect x="1236" y="129" width="5" height="32" fill="#ff4500"/>
<rect x="1246" y="110" width="1" height="77" fill="#32cd32"/>
<rect x="1244" y="129" width="5" height="24" fill="#32cd32"/>
<rect x="1254" y="139" width="1" height="19" fill="#32cd32"/>
<rect x="1252" y="152" width="5" height="1" fill="#32cd32"/>
<rect x="1262" y="149" width="1" height="12" fill="#32cd32"/>
<rect x="1260" y="152" width="5" height="4" fill="#32cd32"/>
<rect x="1270" y="148" width="1" height="25" fill="#32cd32"/>
<rect x="1268" y="155" width="5" height="7" fill="#32cd32"/>
<rect x="1278" y="145" width="1" height="24" fill="#32cd32"/>
<rect x="1276" y="161" width="5" height="5" fill="#32cd32"/>
<rect x="1286" y="163" width="1" height="14" fill="#32cd32"/>
<rect x="1284" y="165" width="5" height="8" fill="#32cd32"/>
<rect x="1294" y="153" width="1" height="20" fill="#ff4500"/>
<rect x="1292" y="158" width="5" height="15" fill="#ff4500"/>
<rect x="1302" y="103" width="1" height="59" fill="#ff4500"/>
<rect x="1300" y="107" width="5" height="52" fill="#ff4500"/>
<rect x="1310" y="71" width="1" height="42" fill="#ff4500"/>
<rect x="1308" y="85" width="5" height="23" fill="#ff4500"/>
</g>
<g shape-rendering="crispEdges" fill="none" stroke="#000" stroke-width="1">
<path d="M5.5 46.5H1662.5V544.5H5.5Z"/>
<path d="M5.5 546.5H1662.5V608.5H5.5Z"/>
<path d="M5.5 610.5H1662.5V739.5H5.5Z"/>
<path d="M1663 133.5H1665"/>
<path d="M1663 231.5H1665"/>
<path d="M1663 280.5H1665"/>
<path d="M1663 329.5H1665"/>
<path d="M1663 378.5H1665"/>
<path d="M1663 427.5H1665"/>
<path d="M1663 476.5H1665"/>
<path d="M1663 525.5H1665"/>
<path d="M1663 589.5H1665"/>
<path d="M1663 548.5H1664"/>
<path d="M1663 607.5H1664"/>
<path d="M1663 612.5H1664"/>
<path d="M6.5 740V743"/>
<path d="M102.5 740V743"/>
<path d="M198.5 740V743"/>
<path d="M294.5 740V743"/>
<path d="M390.5 740V743"/>
<path d="M486.5 740V743"/>
<path d="M582.5 740V743"/>
<path d="M678.5 740V743"/>
<path d="M774.5 740V743"/>
<path d="M870.5 740V743"/>
<path d="M966.5 740V743"/>
<path d="M1062.5 740V743"/>
<path d="M1158.5 740V743"/>
<path d="M1254.5 740V743"/>
</g>
<path d="M1323.5 47H1335.5L1329.5 53Z" fill="#c0c0c0"/>
<path d="M8.8 59L13.5 53.8L18.2 59Z" fill="#000"/>
</svg>
<div class="t" style="left:23.9px;top:50px;letter-spacing:-0.490px;">XAUUSD-,H4</div>
<div class="t" style="left:101.5px;top:50px;letter-spacing:0.300px;">1355.11</div>
<div class="t" style="left:151.3px;top:50px;letter-spacing:0.395px;">1362.46</div>
<div class="t" style="left:200.8px;top:50px;letter-spacing:0.415px;">1354.22</div>
<div class="t" style="left:250.8px;top:50px;letter-spacing:0.302px;">1359.68</div>
<div class="t" style="left:9.9px;top:551px;letter-spacing:0.291px;">MACD(12,26,9) 3.456 2.542</div>
<div class="t" style="left:9.9px;top:615px;letter-spacing:0.254px;">RSI(14) 69.1825</div>
<div class="t tf" style="left:196.0px;top:20.5px;color:#464646;letter-spacing:0.908px;">M1</div>
<div class="t tf" style="left:230.2px;top:20.5px;color:#464646;letter-spacing:0.528px;">M5</div>
<div class="t tf" style="left:261.6px;top:20.5px;color:#464646;letter-spacing:0.208px;">M15</div>
<div class="t tf" style="left:296.0px;top:20.5px;color:#464646;letter-spacing:0.038px;">M30</div>
<div class="t tf" style="left:333.6px;top:20.5px;color:#464646;letter-spacing:0.496px;">H1</div>
<div class="t tf" style="left:366.4px;top:20.5px;color:#464646;letter-spacing:1.216px;">H4</div>
<div class="t tf" style="left:401.6px;top:20.5px;color:#464646;letter-spacing:0.496px;">D1</div>
<div class="t tf" style="left:436.0px;top:20.5px;color:#464646;letter-spacing:-0.240px;">W1</div>
<div class="t tf" style="left:466.5px;top:20.5px;color:#464646;letter-spacing:1.208px;">MN</div>
<div class="t" style="left:1669.5px;top:127px;letter-spacing:0.318px;">1349.90</div>
<div class="t" style="left:1669.5px;top:225px;letter-spacing:0.318px;">1330.10</div>
<div class="t" style="left:1669.5px;top:323px;letter-spacing:0.318px;">1310.30</div>
<div class="t" style="left:1669.5px;top:372px;letter-spacing:0.318px;">1300.50</div>
<div class="t" style="left:1669.5px;top:421px;letter-spacing:0.318px;">1290.70</div>
<div class="t" style="left:1669.5px;top:470px;letter-spacing:0.318px;">1280.70</div>
<div class="t" style="left:1669.5px;top:519px;letter-spacing:0.318px;">1270.90</div>
<div class="t" style="left:1665.6px;top:549px;letter-spacing:0.746px;">11.772</div>
<div class="t" style="left:1666.4px;top:583px;letter-spacing:0.274px;">0.00</div>
<div class="t" style="left:1666.4px;top:594px;letter-spacing:0.254px;">-5.101</div>
<div class="t" style="left:1665.6px;top:613px;letter-spacing:0.534px;">100</div>
<div class="t" style="left:1665.1px;top:644px;letter-spacing:-0.239px;">70</div>
<div class="t" style="left:1665.1px;top:694px;letter-spacing:-0.239px;">30</div>
<div class="t" style="left:1666.1px;top:725px;">0</div>
<div class="t" style="left:4.7px;top:744px;letter-spacing:0.181px;">13 May 2019</div>
<div class="t" style="left:100.7px;top:744px;letter-spacing:0.221px;">15 May 16:00</div>
<div class="t" style="left:196.7px;top:744px;letter-spacing:0.221px;">17 May 16:00</div>
<div class="t" style="left:293.5px;top:744px;letter-spacing:0.148px;">21 May 16:00</div>
<div class="t" style="left:389.5px;top:744px;letter-spacing:0.148px;">23 May 16:00</div>
<div class="t" style="left:485.5px;top:744px;letter-spacing:0.148px;">27 May 16:00</div>
<div class="t" style="left:581.5px;top:744px;letter-spacing:0.148px;">29 May 16:00</div>
<div class="t" style="left:677.5px;top:744px;letter-spacing:0.148px;">31 May 16:00</div>
<div class="t" style="left:773.5px;top:744px;letter-spacing:0.268px;">4 Jun 16:00</div>
<div class="t" style="left:869.5px;top:744px;letter-spacing:0.268px;">6 Jun 16:00</div>
<div class="t" style="left:964.7px;top:744px;letter-spacing:0.340px;">10 Jun 16:00</div>
<div class="t" style="left:1060.7px;top:744px;letter-spacing:0.336px;">12 Jun 16:00</div>
<div class="t" style="left:1156.7px;top:744px;letter-spacing:0.336px;">14 Jun 16:00</div>
<div class="t" style="left:1252.7px;top:744px;letter-spacing:0.336px;">18 Jun 16:00</div>
<!-- one click trading panel -->
<div class="abs" style="left:7px;top:67px;width:287px;height:80px;background:#fff"></div>
<div class="abs" style="left:9px;top:69px;width:283px;height:76px;background:#fff">
 <div class="abs" style="left:0;top:0;width:68px;height:28px;background:linear-gradient(#fa5050,#e83c3c);border:1px solid #c81414;border-bottom:0;box-sizing:border-box"></div>
 <div class="abs" style="left:215px;top:0;width:68px;height:28px;background:linear-gradient(#fa5050,#e83c3c);border:1px solid #c81414;border-bottom:0;box-sizing:border-box"></div>
 <div class="abs" style="left:0;top:27px;width:141px;height:49px;background:linear-gradient(#e43838,#c81818 50%,#b40606);border:1px solid #b80c0c;border-top:0;box-sizing:border-box"></div>
 <div class="abs" style="left:143px;top:27px;width:140px;height:49px;background:linear-gradient(#e43838,#c81818 50%,#b40606);border:1px solid #b80c0c;border-top:0;box-sizing:border-box"></div>
 <div class="abs" style="left:4px;top:27px;width:60px;height:1px;background:#a81010"></div>
 <div class="abs" style="left:4px;top:28px;width:60px;height:1px;background:#ee5a5a"></div>
 <div class="abs" style="left:219px;top:27px;width:60px;height:1px;background:#a81010"></div>
 <div class="abs" style="left:219px;top:28px;width:60px;height:1px;background:#ee5a5a"></div>
 <div class="abs" style="left:17px;top:5.5px;font-size:14px;line-height:16px;color:#fff;letter-spacing:-0.4px">SELL</div>
 <div class="abs" style="left:234px;top:5.5px;font-size:14px;line-height:16px;color:#fff;letter-spacing:-0.6px">BUY</div>
 <!-- volume spinner -->
 <div class="abs" style="left:70px;top:0;width:143px;height:25px;background:#fff;border:1px solid #abadb3;box-sizing:border-box"></div>
 <div class="abs" style="left:72px;top:2px;width:21px;height:21px;background:linear-gradient(#f3f3f3,#ebebeb 27%,#dddddd 27%,#d0d0d0)"></div>
 <div class="abs" style="left:94px;top:1px;width:1px;height:23px;background:#abadb3"></div>
 <div class="abs" style="left:190px;top:2px;width:21px;height:21px;background:linear-gradient(#f3f3f3,#ebebeb 27%,#dddddd 27%,#d0d0d0)"></div>
 <div class="abs" style="left:188px;top:1px;width:1px;height:23px;background:#abadb3"></div>
 <svg class="abs" style="left:71px;top:1px" width="141" height="23"><path d="M8.3 10.3H15.3L11.8 14Z" fill="#4b5fb4"/><path d="M126 12.9H133L129.5 9Z" fill="#4b5fb4"/></svg>
 <div class="abs" style="left:154.3px;top:3.8px;font-size:15.8px;line-height:18px;color:#000;letter-spacing:0.05px">1.00</div>
 <!-- prices -->
 <div class="abs" style="left:30px;top:51px;font-size:15px;line-height:16px;font-weight:bold;color:#fff;letter-spacing:0.75px">1359</div>
 <div class="abs" style="left:69px;top:28px;font-size:42px;line-height:46px;color:#fff;transform:scaleX(.975);transform-origin:0 0;letter-spacing:-0.5px">67</div>
 <div class="abs" style="left:172px;top:51px;font-size:15px;line-height:16px;font-weight:bold;color:#fff;letter-spacing:0.75px">1360</div>
 <div class="abs" style="left:212px;top:28px;font-size:42px;line-height:46px;color:#fff;transform:scaleX(.975);transform-origin:0 0;letter-spacing:-0.5px">05</div>
</div>
<!-- price labels -->
<div class="lab" style="top:78px;background:#000">1359.68</div>
<div class="lab" style="top:106px;background:#00ff7f">1354.16</div>
<div class="lab" style="top:176px;background:#0000ff">1340.00</div>
<div class="lab" style="top:271px;background:#0000ff">1320.98</div>
<!-- annotation -->
<div class="abs" style="left:1162.3px;top:424px;font-size:52px;line-height:72px;color:#ff1e0f;font-family:'Liberation Sans','Noto Sans CJK SC',sans-serif"><span style="letter-spacing:-1.6px;position:relative;top:3px;-webkit-text-stroke:0.35px #ff1e0f">多空转折点</span><span style="font-size:50px;letter-spacing:1.8px;margin-left:1.2px">1354</span></div>
<!-- bottom -->
<div class="abs" style="left:3px;top:763px;width:1721px;height:1px;background:#dcdcdc"></div>
<div class="abs" style="left:0;top:765px;width:209px;height:1px;background:#000"></div>
<div class="abs" style="left:327px;top:765px;width:1397px;height:1px;background:#000"></div>

</body></html>
